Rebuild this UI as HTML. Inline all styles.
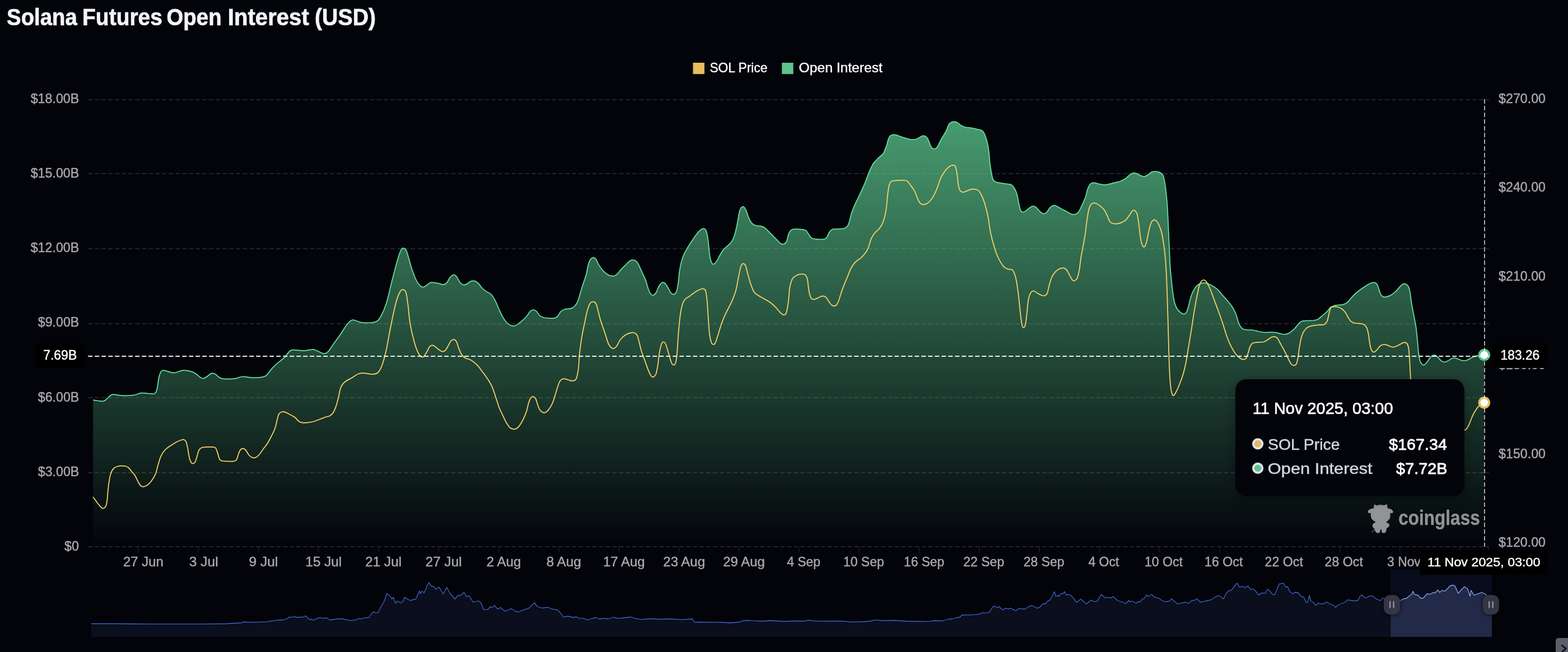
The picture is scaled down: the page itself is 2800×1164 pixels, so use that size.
<!DOCTYPE html>
<html lang="en"><head><meta charset="utf-8"><title>Solana Futures Open Interest (USD)</title>
<style>html,body{margin:0;padding:0;background:#03040a;}body{width:2800px;height:1164px;overflow:hidden;position:relative;}svg{display:block;position:absolute;left:0;top:0;}text{font-family:"Liberation Sans",sans-serif;white-space:pre;}</style>
</head><body>
<svg width="2800" height="1164" viewBox="0 0 2800 1164">
<defs>
<linearGradient id="ga" gradientUnits="userSpaceOnUse" x1="0" y1="215" x2="0" y2="976">
<stop offset="0" stop-color="#5ecd91" stop-opacity="0.75"/>
<stop offset="1" stop-color="#5ecd91" stop-opacity="0.0"/>
</linearGradient>
<filter id="sh" x="-20%" y="-20%" width="140%" height="140%"><feGaussianBlur stdDeviation="10"/></filter>
<filter id="hb1" x="-20%" y="-20%" width="140%" height="140%"><feGaussianBlur stdDeviation="0.7"/></filter>
<filter id="hb2" x="-40%" y="-40%" width="180%" height="180%"><feGaussianBlur stdDeviation="3"/></filter>
<clipPath id="selclip"><rect x="2483.25" y="1000" width="180.75" height="140"/></clipPath>
<clipPath id="unselclip"><rect x="0" y="1000" width="2483.25" height="140"/></clipPath>
</defs>
<rect width="2800" height="1164" fill="#03040a"/>
<text y="44.7" font-size="43" fill="#f3f4f8" font-weight="bold" stroke="#f3f4f8" stroke-width="0.7" stroke-linejoin="round"><tspan x="12.1" textLength="125.61" lengthAdjust="spacingAndGlyphs">Solana</tspan> <tspan x="147.02" textLength="142.97" lengthAdjust="spacingAndGlyphs">Futures</tspan> <tspan x="297.41" textLength="98.27" lengthAdjust="spacingAndGlyphs">Open</tspan> <tspan x="406.74" textLength="145.11" lengthAdjust="spacingAndGlyphs">Interest</tspan> <tspan x="561.88" textLength="109.33" lengthAdjust="spacingAndGlyphs">(USD)</tspan></text>
<rect x="1237.5" y="112" width="20.4" height="20.2" fill="#e6bc5c"/>
<text x="1267.38" y="128.9" textLength="102.97" lengthAdjust="spacingAndGlyphs" font-size="24" fill="#ffffff" stroke="#ffffff" stroke-width="0.4" stroke-linejoin="round">SOL Price</text>
<rect x="1396.2" y="112" width="20.4" height="20.2" fill="#5ec48c"/>
<text x="1426.59" y="128.9" textLength="149.23" lengthAdjust="spacingAndGlyphs" font-size="24" fill="#ffffff" stroke="#ffffff" stroke-width="0.4" stroke-linejoin="round">Open Interest</text>
<g stroke="#212328" stroke-width="2" stroke-dasharray="8 4" fill="none">
<path d="M157.3 178H2659"/>
<path d="M157.3 310H2659"/>
<path d="M157.3 444H2659"/>
<path d="M157.3 578H2659"/>
<path d="M157.3 710H2659"/>
<path d="M157.3 844H2659"/>
<path d="M157.3 976H2659"/>
</g>
<g stroke="#16181c" stroke-width="2" fill="none">
<path d="M247 976V986.5"/>
<path d="M354.3 976V986.5"/>
<path d="M461.5 976V986.5"/>
<path d="M568.8 976V986.5"/>
<path d="M676.1 976V986.5"/>
<path d="M783.4 976V986.5"/>
<path d="M890.6 976V986.5"/>
<path d="M997.9 976V986.5"/>
<path d="M1105.2 976V986.5"/>
<path d="M1212.4 976V986.5"/>
<path d="M1319.7 976V986.5"/>
<path d="M1427 976V986.5"/>
<path d="M1534.2 976V986.5"/>
<path d="M1641.5 976V986.5"/>
<path d="M1748.8 976V986.5"/>
<path d="M1856 976V986.5"/>
<path d="M1963.3 976V986.5"/>
<path d="M2070.6 976V986.5"/>
<path d="M2177.9 976V986.5"/>
<path d="M2285.1 976V986.5"/>
<path d="M2392.4 976V986.5"/>
<path d="M2499.7 976V986.5"/>
<path d="M2606.9 976V986.5"/>
<path d="M2658 976V986.5"/>
</g>
<text x="54.69" y="184.1" textLength="86.56" lengthAdjust="spacingAndGlyphs" font-size="24.5" fill="#a9a9ac" stroke="#a9a9ac" stroke-width="0.45" stroke-linejoin="round">$18.00B</text>
<text x="54.69" y="317.2" textLength="86.56" lengthAdjust="spacingAndGlyphs" font-size="24.5" fill="#a9a9ac" stroke="#a9a9ac" stroke-width="0.45" stroke-linejoin="round">$15.00B</text>
<text x="54.69" y="450.4" textLength="86.56" lengthAdjust="spacingAndGlyphs" font-size="24.5" fill="#a9a9ac" stroke="#a9a9ac" stroke-width="0.45" stroke-linejoin="round">$12.00B</text>
<text x="67.79" y="583.2" textLength="73.55" lengthAdjust="spacingAndGlyphs" font-size="24.5" fill="#a9a9ac" stroke="#a9a9ac" stroke-width="0.45" stroke-linejoin="round">$9.00B</text>
<text x="67.79" y="716.5" textLength="73.55" lengthAdjust="spacingAndGlyphs" font-size="24.5" fill="#a9a9ac" stroke="#a9a9ac" stroke-width="0.45" stroke-linejoin="round">$6.00B</text>
<text x="67.79" y="849.8" textLength="73.55" lengthAdjust="spacingAndGlyphs" font-size="24.5" fill="#a9a9ac" stroke="#a9a9ac" stroke-width="0.45" stroke-linejoin="round">$3.00B</text>
<text x="114.99" y="983" textLength="25.95" lengthAdjust="spacingAndGlyphs" font-size="24.5" fill="#a9a9ac" stroke="#a9a9ac" stroke-width="0.45" stroke-linejoin="round">$0</text>
<text x="2676.09" y="184" textLength="83.9" lengthAdjust="spacingAndGlyphs" font-size="24.5" fill="#a9a9ac" stroke="#a9a9ac" stroke-width="0.45" stroke-linejoin="round">$270.00</text>
<text x="2676.09" y="342.4" textLength="83.9" lengthAdjust="spacingAndGlyphs" font-size="24.5" fill="#a9a9ac" stroke="#a9a9ac" stroke-width="0.45" stroke-linejoin="round">$240.00</text>
<text x="2676.09" y="500.8" textLength="83.9" lengthAdjust="spacingAndGlyphs" font-size="24.5" fill="#a9a9ac" stroke="#a9a9ac" stroke-width="0.45" stroke-linejoin="round">$210.00</text>
<text x="2676.09" y="659.2" textLength="83.9" lengthAdjust="spacingAndGlyphs" font-size="24.5" fill="#a9a9ac" stroke="#a9a9ac" stroke-width="0.45" stroke-linejoin="round">$180.00</text>
<text x="2676.09" y="817.6" textLength="83.9" lengthAdjust="spacingAndGlyphs" font-size="24.5" fill="#a9a9ac" stroke="#a9a9ac" stroke-width="0.45" stroke-linejoin="round">$150.00</text>
<text x="2676.09" y="976" textLength="83.9" lengthAdjust="spacingAndGlyphs" font-size="24.5" fill="#a9a9ac" stroke="#a9a9ac" stroke-width="0.45" stroke-linejoin="round">$120.00</text>
<text x="219.99" y="1010.8" textLength="71.73" lengthAdjust="spacingAndGlyphs" font-size="24.5" fill="#a9a9ac" stroke="#a9a9ac" stroke-width="0.45" stroke-linejoin="round">27 Jun</text>
<text x="337.84" y="1010.8" textLength="51.89" lengthAdjust="spacingAndGlyphs" font-size="24.5" fill="#a9a9ac" stroke="#a9a9ac" stroke-width="0.45" stroke-linejoin="round">3 Jul</text>
<text x="444.62" y="1010.8" textLength="51.8" lengthAdjust="spacingAndGlyphs" font-size="24.5" fill="#a9a9ac" stroke="#a9a9ac" stroke-width="0.45" stroke-linejoin="round">9 Jul</text>
<text x="545.4" y="1010.8" textLength="64.78" lengthAdjust="spacingAndGlyphs" font-size="24.5" fill="#a9a9ac" stroke="#a9a9ac" stroke-width="0.45" stroke-linejoin="round">15 Jul</text>
<text x="652.26" y="1010.8" textLength="64.93" lengthAdjust="spacingAndGlyphs" font-size="24.5" fill="#a9a9ac" stroke="#a9a9ac" stroke-width="0.45" stroke-linejoin="round">21 Jul</text>
<text x="759.76" y="1010.8" textLength="64.93" lengthAdjust="spacingAndGlyphs" font-size="24.5" fill="#a9a9ac" stroke="#a9a9ac" stroke-width="0.45" stroke-linejoin="round">27 Jul</text>
<text x="868.8" y="1010.8" textLength="61.46" lengthAdjust="spacingAndGlyphs" font-size="24.5" fill="#a9a9ac" stroke="#a9a9ac" stroke-width="0.45" stroke-linejoin="round">2 Aug</text>
<text x="975.66" y="1010.8" textLength="62.12" lengthAdjust="spacingAndGlyphs" font-size="24.5" fill="#a9a9ac" stroke="#a9a9ac" stroke-width="0.45" stroke-linejoin="round">8 Aug</text>
<text x="1076.96" y="1010.8" textLength="74.58" lengthAdjust="spacingAndGlyphs" font-size="24.5" fill="#a9a9ac" stroke="#a9a9ac" stroke-width="0.45" stroke-linejoin="round">17 Aug</text>
<text x="1184.3" y="1010.8" textLength="74.75" lengthAdjust="spacingAndGlyphs" font-size="24.5" fill="#a9a9ac" stroke="#a9a9ac" stroke-width="0.45" stroke-linejoin="round">23 Aug</text>
<text x="1291.3" y="1010.8" textLength="74.49" lengthAdjust="spacingAndGlyphs" font-size="24.5" fill="#a9a9ac" stroke="#a9a9ac" stroke-width="0.45" stroke-linejoin="round">29 Aug</text>
<text x="1405.15" y="1010.8" textLength="59.86" lengthAdjust="spacingAndGlyphs" font-size="24.5" fill="#a9a9ac" stroke="#a9a9ac" stroke-width="0.45" stroke-linejoin="round">4 Sep</text>
<text x="1506.01" y="1010.8" textLength="72.67" lengthAdjust="spacingAndGlyphs" font-size="24.5" fill="#a9a9ac" stroke="#a9a9ac" stroke-width="0.45" stroke-linejoin="round">10 Sep</text>
<text x="1614.02" y="1010.8" textLength="72.16" lengthAdjust="spacingAndGlyphs" font-size="24.5" fill="#a9a9ac" stroke="#a9a9ac" stroke-width="0.45" stroke-linejoin="round">16 Sep</text>
<text x="1720.33" y="1010.8" textLength="72.86" lengthAdjust="spacingAndGlyphs" font-size="24.5" fill="#a9a9ac" stroke="#a9a9ac" stroke-width="0.45" stroke-linejoin="round">22 Sep</text>
<text x="1827.83" y="1010.8" textLength="72.6" lengthAdjust="spacingAndGlyphs" font-size="24.5" fill="#a9a9ac" stroke="#a9a9ac" stroke-width="0.45" stroke-linejoin="round">28 Sep</text>
<text x="1943.4" y="1010.8" textLength="55.1" lengthAdjust="spacingAndGlyphs" font-size="24.5" fill="#a9a9ac" stroke="#a9a9ac" stroke-width="0.45" stroke-linejoin="round">4 Oct</text>
<text x="2044" y="1010.8" textLength="67.91" lengthAdjust="spacingAndGlyphs" font-size="24.5" fill="#a9a9ac" stroke="#a9a9ac" stroke-width="0.45" stroke-linejoin="round">10 Oct</text>
<text x="2150.98" y="1010.8" textLength="68.43" lengthAdjust="spacingAndGlyphs" font-size="24.5" fill="#a9a9ac" stroke="#a9a9ac" stroke-width="0.45" stroke-linejoin="round">16 Oct</text>
<text x="2258.56" y="1010.8" textLength="68.34" lengthAdjust="spacingAndGlyphs" font-size="24.5" fill="#a9a9ac" stroke="#a9a9ac" stroke-width="0.45" stroke-linejoin="round">22 Oct</text>
<text x="2365.56" y="1010.8" textLength="68.34" lengthAdjust="spacingAndGlyphs" font-size="24.5" fill="#a9a9ac" stroke="#a9a9ac" stroke-width="0.45" stroke-linejoin="round">28 Oct</text>
<text x="2477.06" y="1010.8" textLength="59.77" lengthAdjust="spacingAndGlyphs" font-size="24.5" fill="#a9a9ac" stroke="#a9a9ac" stroke-width="0.45" stroke-linejoin="round">3 Nov</text>
<path d="M166.2 714.2C167.7 714.4 171.9 715.1 175 715.5C178.1 715.8 182.3 716.8 185 716.2C187.7 715.6 189.4 713.3 191.2 711.7C193.1 710.1 194.4 708 196.2 706.7C198.1 705.5 199 704.3 202.5 704.2C206 704.1 211.7 706 217.5 706.2C223.3 706.5 231.7 706.5 237.5 705.7C243.3 705 247.9 702.2 252.5 701.7C257.1 701.2 261.2 702.2 265 702.5C268.8 702.7 272.5 704 275 703C277.5 701.9 278.5 701.1 280 696.2C281.5 691.3 282.5 679.1 283.8 673.7C285 668.3 286 665.8 287.5 663.7C289 661.6 288.8 660.9 292.5 661.2C296.2 661.5 304.2 665.5 310 665.5C315.8 665.5 322.1 661.5 327.5 661.2C332.9 660.9 338.8 662.7 342.5 663.7C346.2 664.7 346.7 665.5 350 667.5C353.3 669.5 357.9 675.8 362.5 675.7C367.1 675.6 373.8 668 377.5 666.7C381.2 665.5 382.1 666.7 385 668.2C387.9 669.7 389.6 674.4 395 675.7C400.4 677 411.2 676.7 417.5 676.2C423.8 675.7 427.1 672.8 432.5 672.5C437.9 672.1 444.6 674 450 674.2C455.4 674.4 460.8 674.3 465 673.7C469.2 673.1 471.7 673.2 475 670.7C478.3 668.2 481.7 662.4 485 658.7C488.3 655 491.2 652 495 648.7C498.8 645.4 503.8 642.4 507.5 638.7C511.2 635 514.6 629 517.5 626.7C520.4 624.4 520.8 624.8 525 624.7C529.2 624.6 537.1 626.3 542.5 626.2C547.9 626.1 553.8 624 557.5 624C561.2 623.9 561.7 624.5 565 625.7C568.3 626.9 574.2 630.7 577.5 631.2C580.8 631.7 582.1 631.4 585 628.7C587.9 626 591.2 620.2 595 615C598.8 609.7 603.3 603.5 607.5 597.5C611.7 591.4 616.7 583 620 578.7C623.3 574.5 625.4 573.2 627.5 572C629.6 570.7 629.6 570.8 632.5 571.5C635.4 572.1 640 575 645 575.7C650 576.5 657.9 576.3 662.5 576C667.1 575.6 669.6 575.5 672.5 573.7C675.4 571.9 677.1 570.4 680 565C682.9 559.5 686.7 551.8 690 541.2C693.3 530.6 696.7 514.1 700 501.2C703.3 488.3 707.3 472.9 710 463.7C712.7 454.5 714.6 449.6 716.2 446.2C717.9 442.8 718.5 443.2 720 443.2C721.5 443.2 723.3 443.2 725 446.2C726.7 449.2 728.3 455.8 730 461.2C731.7 466.6 732.9 472.4 735 478.7C737.1 484.9 740 493.5 742.5 498.7C745 503.9 747.7 507.7 750 509.9C752.3 512.2 754.2 512.7 756.2 512.5C758.3 512.2 760.2 510.1 762.5 508.7C764.8 507.3 766.4 504.6 770 504.2C773.6 503.8 780.4 505.5 784 506.2C787.6 506.9 789.2 508.4 791.5 508.2C793.8 508 795.7 507.2 797.8 504.9C799.8 502.7 801.9 497.3 804 494.9C806.1 492.6 808.4 490.9 810.2 490.7C812.1 490.5 813.6 491.7 815.2 493.7C816.9 495.7 818.4 500 820.2 502.4C822.1 504.9 824.4 507.4 826.5 508.2C828.6 509 830.5 508.4 832.8 507.4C835 506.5 837.8 503.4 840.2 502.4C842.8 501.5 845.5 501.2 847.8 501.7C850 502.2 851.7 503.5 854 505.7C856.3 507.9 859 512.5 861.5 515C864 517.5 866.5 519 869 520.7C871.5 522.4 874 522.4 876.5 525C879 527.5 881.7 532 884 536.2C886.3 540.4 888.2 545.4 890.2 550C892.3 554.5 894.2 559.5 896.5 563.7C898.8 567.9 901.5 572.1 904 575C906.5 577.8 909 579.6 911.5 580.7C914 581.8 916.5 582.2 919 581.7C921.5 581.2 924 579.2 926.5 577.5C929 575.7 931.7 573.3 934 571.2C936.3 569.1 938.2 567.5 940.2 565C942.3 562.5 944.5 558.2 946.5 556.2C948.5 554.2 950.1 553.3 952 553.2C953.9 553.1 955.8 554 957.8 555.7C959.8 557.5 961.7 561.8 964 563.7C966.3 565.6 968.6 566.2 971.5 567C974.4 567.7 978.2 568.1 981.5 568.2C984.8 568.3 989 568.5 991.5 567.7C994 567 994.8 565.6 996.5 563.7C998.2 561.8 999.4 558.2 1001.5 556.2C1003.6 554.2 1005.9 552.9 1009 552C1012.1 551 1017.3 551.7 1020.2 550.7C1023.2 549.7 1024.6 548.2 1026.5 546.2C1028.4 544.2 1029.8 542.7 1031.5 538.7C1033.2 534.7 1034.8 527.9 1036.5 522.5C1038.2 517 1039.8 511.4 1041.5 506.2C1043.2 501 1045 496.6 1046.5 491.2C1048 485.8 1049 478.3 1050.2 473.7C1051.5 469.1 1052.5 466 1054 463.7C1055.5 461.4 1057.3 460.2 1059 459.9C1060.7 459.7 1062.3 460.4 1064 462.4C1065.7 464.5 1067.1 469.3 1069 472.4C1070.9 475.6 1073 478.5 1075.2 481.2C1077.5 483.9 1080.5 486.9 1082.8 488.7C1085 490.5 1086.7 491.3 1089 491.9C1091.3 492.6 1094.2 493.2 1096.5 492.7C1098.8 492.2 1100.7 490.6 1102.8 488.7C1104.8 486.8 1106.7 483.7 1109 481.2C1111.3 478.7 1114 476.2 1116.5 473.7C1119 471.2 1121.7 467.8 1124 466.2C1126.3 464.6 1128.2 464.1 1130.2 464.2C1132.3 464.3 1134.6 464.9 1136.5 466.7C1138.4 468.5 1139.8 471.7 1141.5 474.9C1143.2 478.2 1144.6 482 1146.5 486.2C1148.4 490.4 1150.9 494.9 1152.8 499.9C1154.6 504.9 1156.3 512.2 1157.8 516.2C1159.2 520.2 1160 522.4 1161.5 524.2C1163 526 1164.8 527.2 1166.5 527C1168.2 526.7 1169.8 525.1 1171.5 522.5C1173.2 519.8 1174.8 514.1 1176.5 511.2C1178.2 508.3 1179.8 506 1181.5 504.9C1183.2 503.9 1184.8 503.9 1186.5 504.9C1188.2 506 1189.6 508.3 1191.5 511.2C1193.4 514.1 1195.9 520 1197.8 522.5C1199.6 524.9 1201.1 525.9 1202.8 525.7C1204.4 525.5 1206.4 524.5 1207.8 521.2C1209.1 518 1210 512.5 1211 506.2C1212 499.9 1212.4 490.8 1213.5 483.7C1214.6 476.6 1216 469.5 1217.8 463.7C1219.5 457.9 1220.5 455 1224 448.7C1227.5 442.4 1234.4 431.7 1238.5 425.7C1242.6 419.7 1245.6 415.6 1248.5 412.7C1251.4 409.8 1253.9 408.3 1256 408.2C1258.1 408.1 1259.7 409 1261 411.9C1262.3 414.9 1262.9 417.9 1264 425.7C1265.1 433.5 1266.5 451.3 1267.8 458.7C1269 466.1 1270.5 467.8 1271.5 469.9C1272.5 472.1 1272.8 472.1 1274 471.7C1275.2 471.3 1277.1 470 1279 467.4C1280.9 464.9 1283.2 459.7 1285.2 456.2C1287.3 452.7 1288 450.2 1291.5 446.2C1295 442.2 1302.5 436.6 1306 431.9C1309.5 427.3 1310.4 424.2 1312.2 418.2C1314.1 412.2 1315.8 402.8 1317.2 395.7C1318.7 388.6 1319.3 380.2 1321 375.7C1322.7 371.2 1325.4 368.9 1327.2 368.9C1329.1 368.9 1330.6 372.3 1332.2 375.7C1333.9 379.1 1335.4 385.5 1337.2 389.4C1339.1 393.4 1341.2 397.2 1343.5 399.4C1345.8 401.7 1348.5 402.5 1351 403.2C1353.5 403.9 1356 403.1 1358.5 403.7C1361 404.3 1363.1 404.7 1366 406.9C1368.9 409.2 1372.7 413.6 1376 416.9C1379.3 420.3 1383.1 424 1386 426.9C1388.9 429.9 1391.2 433 1393.5 434.4C1395.8 435.9 1397.9 436.3 1399.8 435.7C1401.6 435.1 1403.3 433.8 1404.8 430.7C1406.2 427.6 1407 420.4 1408.5 416.9C1410 413.5 1411.4 411.5 1413.5 410.2C1415.6 408.9 1417.7 409 1421 408.9C1424.3 408.9 1430.4 409.4 1433.5 409.9C1436.6 410.4 1437.9 410.4 1439.8 411.9C1441.6 413.5 1443.1 417.2 1444.8 419.4C1446.4 421.7 1447.5 423.9 1449.8 425.2C1452 426.4 1455 426.6 1458.5 426.9C1462 427.3 1468.1 427.6 1471 427.2C1473.9 426.8 1474.3 426.6 1476 424.4C1477.7 422.3 1479.3 416.9 1481 414.4C1482.7 411.9 1484.5 410.4 1486 409.4C1487.5 408.5 1487.7 409.2 1490 409C1492.3 408.9 1497.3 408.9 1500.1 408.7C1502.9 408.5 1504.8 408.4 1506.8 407.9C1508.8 407.3 1510.4 406.6 1511.8 405.3C1513.2 404.1 1514.2 402.5 1515.2 400.3C1516.2 398.1 1516.9 395 1517.7 391.9C1518.6 388.8 1519 385.7 1520.2 381.8C1521.5 377.9 1523.3 373 1525.3 368.4C1527.3 363.7 1529.8 358.8 1532 354.1C1534.3 349.3 1536.5 344.7 1538.7 339.8C1541 334.9 1543.6 329.2 1545.5 324.7C1547.3 320.2 1548.3 316.5 1549.7 312.9C1551.1 309.3 1552.3 306.2 1553.9 302.8C1555.4 299.5 1557.9 294.6 1558.9 292.7C1559.9 290.8 1558.9 293 1560 291.4C1561.4 289.7 1564.7 285.8 1567.5 283C1570.3 280.2 1574.7 277.1 1576.8 274.6C1578.9 272.1 1579.1 270.1 1580.1 268C1581 266 1581.7 264.4 1582.4 262.4C1583.1 260.4 1583.7 258.1 1584.3 255.9C1584.9 253.7 1585.4 251.5 1586.1 249.3C1586.9 247.2 1587.9 244.7 1588.9 243.3C1590 241.9 1591.4 241.4 1592.7 240.9C1593.9 240.5 1595 240.3 1596.4 240.3C1597.8 240.3 1599.4 240.7 1601.1 241.2C1602.8 241.7 1604.2 242.4 1606.7 243.3C1609.2 244.1 1612.9 245.3 1616 246.3C1619.1 247.2 1622.9 248.6 1625.4 249.1C1627.8 249.6 1629.1 249.5 1631 249.3C1632.8 249.2 1634.7 248.9 1636.6 248.2C1638.4 247.5 1640.5 246.1 1642.2 245.2C1643.9 244.2 1645.6 243.3 1646.8 242.8C1648.1 242.4 1648.6 242.2 1649.6 242.3C1650.7 242.5 1652.3 243.2 1653.4 243.9C1654.5 244.7 1655.2 245.5 1656.2 247C1657.1 248.5 1658 250.8 1659 253.1C1659.9 255.3 1660.8 258.7 1661.8 260.6C1662.7 262.4 1663.6 263.4 1664.6 264.3C1665.5 265.1 1666.4 265.5 1667.4 265.7C1668.3 265.8 1669.2 265.6 1670.2 265.2C1671.1 264.8 1671.9 264.8 1673 263.4C1674.1 262 1675.3 259.5 1676.7 256.8C1678.1 254.2 1679.8 250.3 1681.4 247.5C1682.9 244.7 1684.6 242.4 1686 240C1687.5 237.7 1688.7 235.8 1689.8 233.5C1690.9 231.1 1691.7 228.1 1692.6 226C1693.5 223.9 1694.3 222.2 1695.4 220.9C1696.5 219.5 1697.9 218.7 1699.1 218.1C1700.4 217.4 1701.6 217.2 1702.9 217.1C1704.1 217.1 1705.3 217.2 1706.6 217.6C1707.8 218 1708.9 218.5 1710.3 219.5C1711.7 220.4 1713.3 222.1 1715 223.2C1716.7 224.3 1718.7 225.3 1720.6 226C1722.5 226.7 1724.2 227.3 1726.2 227.6C1728.2 227.9 1730.6 227.8 1732.7 228.1C1734.9 228.3 1736.9 228.8 1739.3 229.3C1741.6 229.8 1744.7 230.7 1746.7 231.2C1748.8 231.6 1750 231.5 1751.4 232.1C1752.8 232.6 1754.1 233.2 1755.1 234.4C1756.2 235.6 1757 237.1 1758 239.1C1758.9 241.1 1759.8 243.6 1760.8 246.6C1761.7 249.5 1762.8 253.2 1763.5 256.8C1764.3 260.4 1764.9 264.1 1765.4 268C1766 271.9 1766.4 276.1 1766.8 280.2C1767.2 284.2 1766.8 286 1767.8 292.3C1768.7 298.6 1770.9 312.8 1772.5 318.2C1774.1 323.6 1775 323 1777.5 324.4C1780 325.9 1783.8 326.2 1787.5 326.9C1791.2 327.7 1796.9 328.2 1800 328.7C1803.1 329.2 1804.4 329 1806.2 330.2C1808.1 331.4 1809.7 333.1 1811.2 335.7C1812.8 338.3 1814.5 341.5 1815.8 345.7C1817 349.9 1817.7 355.9 1818.8 360.7C1819.8 365.5 1820.8 371.4 1822 374.4C1823.2 377.4 1824.7 378.3 1826.2 378.7C1827.8 379.1 1829.2 378.3 1831.2 376.9C1833.3 375.6 1836.5 372.2 1838.8 370.7C1841 369.2 1843.1 368.3 1845 368.2C1846.9 368.1 1848.1 368.5 1850 369.9C1851.9 371.4 1854.2 375 1856.2 376.9C1858.3 378.9 1860.4 381 1862.5 381.4C1864.6 381.9 1866.7 381.2 1868.8 379.4C1870.8 377.7 1872.9 372.8 1875 370.7C1877.1 368.6 1879.2 367.4 1881.2 366.9C1883.3 366.5 1885.2 367.2 1887.5 368.2C1889.8 369.2 1892.1 371.1 1895 372.7C1897.9 374.3 1901.9 376.1 1905 377.7C1908.1 379.3 1911.2 381.6 1913.8 382.4C1916.2 383.3 1917.9 383.4 1920 382.7C1922.1 382 1924.2 381 1926.2 378.2C1928.3 375.4 1930.4 370.3 1932.5 365.7C1934.6 361.1 1937.1 355.5 1938.8 350.7C1940.4 345.9 1941 340.7 1942.5 336.9C1944 333.2 1945.6 330 1947.5 328.2C1949.4 326.4 1951.5 326.2 1953.8 326.2C1956 326.2 1958.3 327.6 1961.2 328.2C1964.2 328.8 1968.1 329.8 1971.2 329.9C1974.4 330.1 1976.9 329.6 1980 328.9C1983.1 328.3 1986.7 327.1 1990 326.2C1993.3 325.3 1996.7 324.9 2000 323.7C2003.3 322.4 2007.1 320.7 2010 318.7C2012.9 316.7 2015.2 313.6 2017.5 311.9C2019.8 310.3 2021.7 309.3 2023.8 308.9C2025.8 308.6 2027.7 309.1 2030 309.9C2032.3 310.8 2035.2 313.1 2037.5 313.9C2039.8 314.8 2041.7 315.5 2043.8 315.2C2045.8 314.9 2047.9 313.2 2050 311.9C2052.1 310.7 2054.2 308.4 2056.2 307.4C2058.3 306.5 2060.2 306.2 2062.5 306.2C2064.8 306.2 2067.7 306.5 2070 307.4C2072.3 308.4 2074.7 309.3 2076.2 311.9C2077.8 314.6 2078.5 317.6 2079.5 323.2C2080.5 328.8 2081.6 336.9 2082.5 345.7C2083.4 354.4 2083.9 355.2 2085 375.7C2086.1 396.2 2088.2 449 2089.2 468.7C2090.3 488.4 2090.5 485.4 2091.2 493.7C2092 502 2092.8 511.2 2093.8 518.7C2094.7 526.2 2095.8 533.5 2097 538.7C2098.2 543.9 2099.5 546.8 2101.2 550C2103 553.1 2105.4 555.7 2107.5 557.5C2109.6 559.2 2111.9 560.5 2113.8 560.5C2115.6 560.5 2117.3 559.8 2118.8 557.5C2120.2 555.1 2121.2 550.6 2122.5 546.2C2123.8 541.8 2124.8 535.8 2126.2 531.2C2127.7 526.6 2129.4 522.2 2131.2 518.7C2133.1 515.2 2135.2 512.1 2137.5 509.9C2139.8 507.8 2142.5 506.5 2145 505.7C2147.5 504.9 2149.4 504.6 2152.5 505.2C2155.6 505.8 2160 507.6 2163.5 509.4C2167 511.3 2170.2 513.2 2173.5 516.2C2176.8 519.2 2180.2 523.7 2183.5 527.5C2186.8 531.2 2190.6 535.2 2193.5 538.7C2196.4 542.2 2198.7 545 2201 548.7C2203.3 552.5 2205.6 557 2207.2 561.2C2208.9 565.4 2209.8 570.2 2211 573.7C2212.2 577.2 2213.3 580.2 2214.8 582.5C2216.2 584.7 2217.5 586.4 2219.8 587.5C2222 588.5 2225.4 588.6 2228.5 589C2231.6 589.3 2235.2 589 2238.5 589.5C2241.8 590 2245.2 591.3 2248.5 592C2251.8 592.6 2255.2 593.2 2258.5 593.5C2261.8 593.7 2265.2 593.2 2268.5 593.2C2271.8 593.2 2275.2 593.2 2278.5 593.7C2281.8 594.2 2285.6 595.7 2288.5 596.2C2291.4 596.7 2293.5 597.1 2296 596.7C2298.5 596.3 2300.8 595.5 2303.5 593.7C2306.2 592 2309.5 589 2312.2 586.2C2315 583.4 2317.5 579.1 2319.8 577C2322 574.8 2323.3 574 2326 573.2C2328.7 572.5 2332.7 572.7 2336 572.5C2339.3 572.2 2343.1 572.4 2346 572C2348.9 571.5 2351 571.3 2353.5 570C2356 568.6 2358.3 566 2361 563.7C2363.7 561.4 2367.2 558.7 2369.8 556.2C2372.2 553.7 2373.9 550.5 2376 548.7C2378.1 547 2380 546.4 2382.2 545.7C2384.5 545 2387 545 2389.8 544.7C2392.5 544.4 2395.8 544.5 2398.5 543.7C2401.2 542.9 2403.5 542 2406 540C2408.5 537.9 2410.8 534.1 2413.5 531.2C2416.2 528.3 2419.3 525 2422.2 522.5C2425.2 519.9 2428.1 517.8 2431 515.7C2433.9 513.6 2437 511.6 2439.8 509.9C2442.5 508.3 2445 506.6 2447.2 505.7C2449.5 504.8 2451.6 504.3 2453.5 504.4C2455.4 504.6 2457 504.7 2458.5 506.7C2460 508.7 2461 513 2462.2 516.2C2463.5 519.5 2464.5 523.9 2466 526.2C2467.5 528.5 2468.9 529.7 2471 530.2C2473.1 530.7 2476 530 2478.5 529.2C2481 528.4 2483.5 527.1 2486 525.5C2488.5 523.8 2491.2 521.5 2493.5 519.2C2495.8 517 2497.9 513.9 2499.8 511.9C2501.6 510 2503.1 508.3 2504.8 507.4C2506.4 506.6 2508.1 506.3 2509.8 506.9C2511.4 507.6 2513.4 508.8 2514.8 511.2C2516.1 513.6 2516.7 515.8 2517.8 521.2C2518.8 526.6 2519.8 536.6 2521 543.7C2522.2 550.8 2523.5 557 2524.8 563.7C2526 570.4 2527.5 576.6 2528.5 583.7C2529.5 590.8 2530.2 598.7 2531 606.2C2531.8 613.7 2532.2 622.5 2533 628.7C2533.8 635 2534.4 640 2535.5 643.7C2536.6 647.4 2538.4 649.5 2539.8 650.7C2541.1 652 2542 652 2543.5 651.2C2545 650.5 2546.8 648.3 2548.5 646.2C2550.2 644.1 2551.8 640.7 2553.5 638.7C2555.2 636.7 2556.8 635.2 2558.5 634.5C2560.2 633.7 2561.8 633.7 2563.5 634.5C2565.2 635.2 2566.6 637 2568.5 638.7C2570.4 640.5 2572.7 643.7 2574.8 645C2576.8 646.2 2578.9 646.5 2581 646.2C2583.1 645.9 2585.2 644.3 2587.2 643.2C2589.3 642.1 2591.4 640.1 2593.5 639.5C2595.6 638.8 2597.7 639 2599.8 639.5C2601.8 639.9 2603.7 641.2 2606 642C2608.3 642.7 2611 644.1 2613.5 644.2C2616 644.3 2618.5 643.5 2621 642.5C2623.5 641.5 2626 639.3 2628.5 638.2C2631 637.1 2633.5 636.3 2636 635.7C2638.5 635.1 2641.2 634.7 2643.5 634.5C2645.8 634.2 2648.7 634.2 2649.8 634.2L2649.8 976L166.2 976Z" fill="url(#ga)"/>
<path d="M166.2 714.2C167.7 714.4 171.9 715.1 175 715.5C178.1 715.8 182.3 716.8 185 716.2C187.7 715.6 189.4 713.3 191.2 711.7C193.1 710.1 194.4 708 196.2 706.7C198.1 705.5 199 704.3 202.5 704.2C206 704.1 211.7 706 217.5 706.2C223.3 706.5 231.7 706.5 237.5 705.7C243.3 705 247.9 702.2 252.5 701.7C257.1 701.2 261.2 702.2 265 702.5C268.8 702.7 272.5 704 275 703C277.5 701.9 278.5 701.1 280 696.2C281.5 691.3 282.5 679.1 283.8 673.7C285 668.3 286 665.8 287.5 663.7C289 661.6 288.8 660.9 292.5 661.2C296.2 661.5 304.2 665.5 310 665.5C315.8 665.5 322.1 661.5 327.5 661.2C332.9 660.9 338.8 662.7 342.5 663.7C346.2 664.7 346.7 665.5 350 667.5C353.3 669.5 357.9 675.8 362.5 675.7C367.1 675.6 373.8 668 377.5 666.7C381.2 665.5 382.1 666.7 385 668.2C387.9 669.7 389.6 674.4 395 675.7C400.4 677 411.2 676.7 417.5 676.2C423.8 675.7 427.1 672.8 432.5 672.5C437.9 672.1 444.6 674 450 674.2C455.4 674.4 460.8 674.3 465 673.7C469.2 673.1 471.7 673.2 475 670.7C478.3 668.2 481.7 662.4 485 658.7C488.3 655 491.2 652 495 648.7C498.8 645.4 503.8 642.4 507.5 638.7C511.2 635 514.6 629 517.5 626.7C520.4 624.4 520.8 624.8 525 624.7C529.2 624.6 537.1 626.3 542.5 626.2C547.9 626.1 553.8 624 557.5 624C561.2 623.9 561.7 624.5 565 625.7C568.3 626.9 574.2 630.7 577.5 631.2C580.8 631.7 582.1 631.4 585 628.7C587.9 626 591.2 620.2 595 615C598.8 609.7 603.3 603.5 607.5 597.5C611.7 591.4 616.7 583 620 578.7C623.3 574.5 625.4 573.2 627.5 572C629.6 570.7 629.6 570.8 632.5 571.5C635.4 572.1 640 575 645 575.7C650 576.5 657.9 576.3 662.5 576C667.1 575.6 669.6 575.5 672.5 573.7C675.4 571.9 677.1 570.4 680 565C682.9 559.5 686.7 551.8 690 541.2C693.3 530.6 696.7 514.1 700 501.2C703.3 488.3 707.3 472.9 710 463.7C712.7 454.5 714.6 449.6 716.2 446.2C717.9 442.8 718.5 443.2 720 443.2C721.5 443.2 723.3 443.2 725 446.2C726.7 449.2 728.3 455.8 730 461.2C731.7 466.6 732.9 472.4 735 478.7C737.1 484.9 740 493.5 742.5 498.7C745 503.9 747.7 507.7 750 509.9C752.3 512.2 754.2 512.7 756.2 512.5C758.3 512.2 760.2 510.1 762.5 508.7C764.8 507.3 766.4 504.6 770 504.2C773.6 503.8 780.4 505.5 784 506.2C787.6 506.9 789.2 508.4 791.5 508.2C793.8 508 795.7 507.2 797.8 504.9C799.8 502.7 801.9 497.3 804 494.9C806.1 492.6 808.4 490.9 810.2 490.7C812.1 490.5 813.6 491.7 815.2 493.7C816.9 495.7 818.4 500 820.2 502.4C822.1 504.9 824.4 507.4 826.5 508.2C828.6 509 830.5 508.4 832.8 507.4C835 506.5 837.8 503.4 840.2 502.4C842.8 501.5 845.5 501.2 847.8 501.7C850 502.2 851.7 503.5 854 505.7C856.3 507.9 859 512.5 861.5 515C864 517.5 866.5 519 869 520.7C871.5 522.4 874 522.4 876.5 525C879 527.5 881.7 532 884 536.2C886.3 540.4 888.2 545.4 890.2 550C892.3 554.5 894.2 559.5 896.5 563.7C898.8 567.9 901.5 572.1 904 575C906.5 577.8 909 579.6 911.5 580.7C914 581.8 916.5 582.2 919 581.7C921.5 581.2 924 579.2 926.5 577.5C929 575.7 931.7 573.3 934 571.2C936.3 569.1 938.2 567.5 940.2 565C942.3 562.5 944.5 558.2 946.5 556.2C948.5 554.2 950.1 553.3 952 553.2C953.9 553.1 955.8 554 957.8 555.7C959.8 557.5 961.7 561.8 964 563.7C966.3 565.6 968.6 566.2 971.5 567C974.4 567.7 978.2 568.1 981.5 568.2C984.8 568.3 989 568.5 991.5 567.7C994 567 994.8 565.6 996.5 563.7C998.2 561.8 999.4 558.2 1001.5 556.2C1003.6 554.2 1005.9 552.9 1009 552C1012.1 551 1017.3 551.7 1020.2 550.7C1023.2 549.7 1024.6 548.2 1026.5 546.2C1028.4 544.2 1029.8 542.7 1031.5 538.7C1033.2 534.7 1034.8 527.9 1036.5 522.5C1038.2 517 1039.8 511.4 1041.5 506.2C1043.2 501 1045 496.6 1046.5 491.2C1048 485.8 1049 478.3 1050.2 473.7C1051.5 469.1 1052.5 466 1054 463.7C1055.5 461.4 1057.3 460.2 1059 459.9C1060.7 459.7 1062.3 460.4 1064 462.4C1065.7 464.5 1067.1 469.3 1069 472.4C1070.9 475.6 1073 478.5 1075.2 481.2C1077.5 483.9 1080.5 486.9 1082.8 488.7C1085 490.5 1086.7 491.3 1089 491.9C1091.3 492.6 1094.2 493.2 1096.5 492.7C1098.8 492.2 1100.7 490.6 1102.8 488.7C1104.8 486.8 1106.7 483.7 1109 481.2C1111.3 478.7 1114 476.2 1116.5 473.7C1119 471.2 1121.7 467.8 1124 466.2C1126.3 464.6 1128.2 464.1 1130.2 464.2C1132.3 464.3 1134.6 464.9 1136.5 466.7C1138.4 468.5 1139.8 471.7 1141.5 474.9C1143.2 478.2 1144.6 482 1146.5 486.2C1148.4 490.4 1150.9 494.9 1152.8 499.9C1154.6 504.9 1156.3 512.2 1157.8 516.2C1159.2 520.2 1160 522.4 1161.5 524.2C1163 526 1164.8 527.2 1166.5 527C1168.2 526.7 1169.8 525.1 1171.5 522.5C1173.2 519.8 1174.8 514.1 1176.5 511.2C1178.2 508.3 1179.8 506 1181.5 504.9C1183.2 503.9 1184.8 503.9 1186.5 504.9C1188.2 506 1189.6 508.3 1191.5 511.2C1193.4 514.1 1195.9 520 1197.8 522.5C1199.6 524.9 1201.1 525.9 1202.8 525.7C1204.4 525.5 1206.4 524.5 1207.8 521.2C1209.1 518 1210 512.5 1211 506.2C1212 499.9 1212.4 490.8 1213.5 483.7C1214.6 476.6 1216 469.5 1217.8 463.7C1219.5 457.9 1220.5 455 1224 448.7C1227.5 442.4 1234.4 431.7 1238.5 425.7C1242.6 419.7 1245.6 415.6 1248.5 412.7C1251.4 409.8 1253.9 408.3 1256 408.2C1258.1 408.1 1259.7 409 1261 411.9C1262.3 414.9 1262.9 417.9 1264 425.7C1265.1 433.5 1266.5 451.3 1267.8 458.7C1269 466.1 1270.5 467.8 1271.5 469.9C1272.5 472.1 1272.8 472.1 1274 471.7C1275.2 471.3 1277.1 470 1279 467.4C1280.9 464.9 1283.2 459.7 1285.2 456.2C1287.3 452.7 1288 450.2 1291.5 446.2C1295 442.2 1302.5 436.6 1306 431.9C1309.5 427.3 1310.4 424.2 1312.2 418.2C1314.1 412.2 1315.8 402.8 1317.2 395.7C1318.7 388.6 1319.3 380.2 1321 375.7C1322.7 371.2 1325.4 368.9 1327.2 368.9C1329.1 368.9 1330.6 372.3 1332.2 375.7C1333.9 379.1 1335.4 385.5 1337.2 389.4C1339.1 393.4 1341.2 397.2 1343.5 399.4C1345.8 401.7 1348.5 402.5 1351 403.2C1353.5 403.9 1356 403.1 1358.5 403.7C1361 404.3 1363.1 404.7 1366 406.9C1368.9 409.2 1372.7 413.6 1376 416.9C1379.3 420.3 1383.1 424 1386 426.9C1388.9 429.9 1391.2 433 1393.5 434.4C1395.8 435.9 1397.9 436.3 1399.8 435.7C1401.6 435.1 1403.3 433.8 1404.8 430.7C1406.2 427.6 1407 420.4 1408.5 416.9C1410 413.5 1411.4 411.5 1413.5 410.2C1415.6 408.9 1417.7 409 1421 408.9C1424.3 408.9 1430.4 409.4 1433.5 409.9C1436.6 410.4 1437.9 410.4 1439.8 411.9C1441.6 413.5 1443.1 417.2 1444.8 419.4C1446.4 421.7 1447.5 423.9 1449.8 425.2C1452 426.4 1455 426.6 1458.5 426.9C1462 427.3 1468.1 427.6 1471 427.2C1473.9 426.8 1474.3 426.6 1476 424.4C1477.7 422.3 1479.3 416.9 1481 414.4C1482.7 411.9 1484.5 410.4 1486 409.4C1487.5 408.5 1487.7 409.2 1490 409C1492.3 408.9 1497.3 408.9 1500.1 408.7C1502.9 408.5 1504.8 408.4 1506.8 407.9C1508.8 407.3 1510.4 406.6 1511.8 405.3C1513.2 404.1 1514.2 402.5 1515.2 400.3C1516.2 398.1 1516.9 395 1517.7 391.9C1518.6 388.8 1519 385.7 1520.2 381.8C1521.5 377.9 1523.3 373 1525.3 368.4C1527.3 363.7 1529.8 358.8 1532 354.1C1534.3 349.3 1536.5 344.7 1538.7 339.8C1541 334.9 1543.6 329.2 1545.5 324.7C1547.3 320.2 1548.3 316.5 1549.7 312.9C1551.1 309.3 1552.3 306.2 1553.9 302.8C1555.4 299.5 1557.9 294.6 1558.9 292.7C1559.9 290.8 1558.9 293 1560 291.4C1561.4 289.7 1564.7 285.8 1567.5 283C1570.3 280.2 1574.7 277.1 1576.8 274.6C1578.9 272.1 1579.1 270.1 1580.1 268C1581 266 1581.7 264.4 1582.4 262.4C1583.1 260.4 1583.7 258.1 1584.3 255.9C1584.9 253.7 1585.4 251.5 1586.1 249.3C1586.9 247.2 1587.9 244.7 1588.9 243.3C1590 241.9 1591.4 241.4 1592.7 240.9C1593.9 240.5 1595 240.3 1596.4 240.3C1597.8 240.3 1599.4 240.7 1601.1 241.2C1602.8 241.7 1604.2 242.4 1606.7 243.3C1609.2 244.1 1612.9 245.3 1616 246.3C1619.1 247.2 1622.9 248.6 1625.4 249.1C1627.8 249.6 1629.1 249.5 1631 249.3C1632.8 249.2 1634.7 248.9 1636.6 248.2C1638.4 247.5 1640.5 246.1 1642.2 245.2C1643.9 244.2 1645.6 243.3 1646.8 242.8C1648.1 242.4 1648.6 242.2 1649.6 242.3C1650.7 242.5 1652.3 243.2 1653.4 243.9C1654.5 244.7 1655.2 245.5 1656.2 247C1657.1 248.5 1658 250.8 1659 253.1C1659.9 255.3 1660.8 258.7 1661.8 260.6C1662.7 262.4 1663.6 263.4 1664.6 264.3C1665.5 265.1 1666.4 265.5 1667.4 265.7C1668.3 265.8 1669.2 265.6 1670.2 265.2C1671.1 264.8 1671.9 264.8 1673 263.4C1674.1 262 1675.3 259.5 1676.7 256.8C1678.1 254.2 1679.8 250.3 1681.4 247.5C1682.9 244.7 1684.6 242.4 1686 240C1687.5 237.7 1688.7 235.8 1689.8 233.5C1690.9 231.1 1691.7 228.1 1692.6 226C1693.5 223.9 1694.3 222.2 1695.4 220.9C1696.5 219.5 1697.9 218.7 1699.1 218.1C1700.4 217.4 1701.6 217.2 1702.9 217.1C1704.1 217.1 1705.3 217.2 1706.6 217.6C1707.8 218 1708.9 218.5 1710.3 219.5C1711.7 220.4 1713.3 222.1 1715 223.2C1716.7 224.3 1718.7 225.3 1720.6 226C1722.5 226.7 1724.2 227.3 1726.2 227.6C1728.2 227.9 1730.6 227.8 1732.7 228.1C1734.9 228.3 1736.9 228.8 1739.3 229.3C1741.6 229.8 1744.7 230.7 1746.7 231.2C1748.8 231.6 1750 231.5 1751.4 232.1C1752.8 232.6 1754.1 233.2 1755.1 234.4C1756.2 235.6 1757 237.1 1758 239.1C1758.9 241.1 1759.8 243.6 1760.8 246.6C1761.7 249.5 1762.8 253.2 1763.5 256.8C1764.3 260.4 1764.9 264.1 1765.4 268C1766 271.9 1766.4 276.1 1766.8 280.2C1767.2 284.2 1766.8 286 1767.8 292.3C1768.7 298.6 1770.9 312.8 1772.5 318.2C1774.1 323.6 1775 323 1777.5 324.4C1780 325.9 1783.8 326.2 1787.5 326.9C1791.2 327.7 1796.9 328.2 1800 328.7C1803.1 329.2 1804.4 329 1806.2 330.2C1808.1 331.4 1809.7 333.1 1811.2 335.7C1812.8 338.3 1814.5 341.5 1815.8 345.7C1817 349.9 1817.7 355.9 1818.8 360.7C1819.8 365.5 1820.8 371.4 1822 374.4C1823.2 377.4 1824.7 378.3 1826.2 378.7C1827.8 379.1 1829.2 378.3 1831.2 376.9C1833.3 375.6 1836.5 372.2 1838.8 370.7C1841 369.2 1843.1 368.3 1845 368.2C1846.9 368.1 1848.1 368.5 1850 369.9C1851.9 371.4 1854.2 375 1856.2 376.9C1858.3 378.9 1860.4 381 1862.5 381.4C1864.6 381.9 1866.7 381.2 1868.8 379.4C1870.8 377.7 1872.9 372.8 1875 370.7C1877.1 368.6 1879.2 367.4 1881.2 366.9C1883.3 366.5 1885.2 367.2 1887.5 368.2C1889.8 369.2 1892.1 371.1 1895 372.7C1897.9 374.3 1901.9 376.1 1905 377.7C1908.1 379.3 1911.2 381.6 1913.8 382.4C1916.2 383.3 1917.9 383.4 1920 382.7C1922.1 382 1924.2 381 1926.2 378.2C1928.3 375.4 1930.4 370.3 1932.5 365.7C1934.6 361.1 1937.1 355.5 1938.8 350.7C1940.4 345.9 1941 340.7 1942.5 336.9C1944 333.2 1945.6 330 1947.5 328.2C1949.4 326.4 1951.5 326.2 1953.8 326.2C1956 326.2 1958.3 327.6 1961.2 328.2C1964.2 328.8 1968.1 329.8 1971.2 329.9C1974.4 330.1 1976.9 329.6 1980 328.9C1983.1 328.3 1986.7 327.1 1990 326.2C1993.3 325.3 1996.7 324.9 2000 323.7C2003.3 322.4 2007.1 320.7 2010 318.7C2012.9 316.7 2015.2 313.6 2017.5 311.9C2019.8 310.3 2021.7 309.3 2023.8 308.9C2025.8 308.6 2027.7 309.1 2030 309.9C2032.3 310.8 2035.2 313.1 2037.5 313.9C2039.8 314.8 2041.7 315.5 2043.8 315.2C2045.8 314.9 2047.9 313.2 2050 311.9C2052.1 310.7 2054.2 308.4 2056.2 307.4C2058.3 306.5 2060.2 306.2 2062.5 306.2C2064.8 306.2 2067.7 306.5 2070 307.4C2072.3 308.4 2074.7 309.3 2076.2 311.9C2077.8 314.6 2078.5 317.6 2079.5 323.2C2080.5 328.8 2081.6 336.9 2082.5 345.7C2083.4 354.4 2083.9 355.2 2085 375.7C2086.1 396.2 2088.2 449 2089.2 468.7C2090.3 488.4 2090.5 485.4 2091.2 493.7C2092 502 2092.8 511.2 2093.8 518.7C2094.7 526.2 2095.8 533.5 2097 538.7C2098.2 543.9 2099.5 546.8 2101.2 550C2103 553.1 2105.4 555.7 2107.5 557.5C2109.6 559.2 2111.9 560.5 2113.8 560.5C2115.6 560.5 2117.3 559.8 2118.8 557.5C2120.2 555.1 2121.2 550.6 2122.5 546.2C2123.8 541.8 2124.8 535.8 2126.2 531.2C2127.7 526.6 2129.4 522.2 2131.2 518.7C2133.1 515.2 2135.2 512.1 2137.5 509.9C2139.8 507.8 2142.5 506.5 2145 505.7C2147.5 504.9 2149.4 504.6 2152.5 505.2C2155.6 505.8 2160 507.6 2163.5 509.4C2167 511.3 2170.2 513.2 2173.5 516.2C2176.8 519.2 2180.2 523.7 2183.5 527.5C2186.8 531.2 2190.6 535.2 2193.5 538.7C2196.4 542.2 2198.7 545 2201 548.7C2203.3 552.5 2205.6 557 2207.2 561.2C2208.9 565.4 2209.8 570.2 2211 573.7C2212.2 577.2 2213.3 580.2 2214.8 582.5C2216.2 584.7 2217.5 586.4 2219.8 587.5C2222 588.5 2225.4 588.6 2228.5 589C2231.6 589.3 2235.2 589 2238.5 589.5C2241.8 590 2245.2 591.3 2248.5 592C2251.8 592.6 2255.2 593.2 2258.5 593.5C2261.8 593.7 2265.2 593.2 2268.5 593.2C2271.8 593.2 2275.2 593.2 2278.5 593.7C2281.8 594.2 2285.6 595.7 2288.5 596.2C2291.4 596.7 2293.5 597.1 2296 596.7C2298.5 596.3 2300.8 595.5 2303.5 593.7C2306.2 592 2309.5 589 2312.2 586.2C2315 583.4 2317.5 579.1 2319.8 577C2322 574.8 2323.3 574 2326 573.2C2328.7 572.5 2332.7 572.7 2336 572.5C2339.3 572.2 2343.1 572.4 2346 572C2348.9 571.5 2351 571.3 2353.5 570C2356 568.6 2358.3 566 2361 563.7C2363.7 561.4 2367.2 558.7 2369.8 556.2C2372.2 553.7 2373.9 550.5 2376 548.7C2378.1 547 2380 546.4 2382.2 545.7C2384.5 545 2387 545 2389.8 544.7C2392.5 544.4 2395.8 544.5 2398.5 543.7C2401.2 542.9 2403.5 542 2406 540C2408.5 537.9 2410.8 534.1 2413.5 531.2C2416.2 528.3 2419.3 525 2422.2 522.5C2425.2 519.9 2428.1 517.8 2431 515.7C2433.9 513.6 2437 511.6 2439.8 509.9C2442.5 508.3 2445 506.6 2447.2 505.7C2449.5 504.8 2451.6 504.3 2453.5 504.4C2455.4 504.6 2457 504.7 2458.5 506.7C2460 508.7 2461 513 2462.2 516.2C2463.5 519.5 2464.5 523.9 2466 526.2C2467.5 528.5 2468.9 529.7 2471 530.2C2473.1 530.7 2476 530 2478.5 529.2C2481 528.4 2483.5 527.1 2486 525.5C2488.5 523.8 2491.2 521.5 2493.5 519.2C2495.8 517 2497.9 513.9 2499.8 511.9C2501.6 510 2503.1 508.3 2504.8 507.4C2506.4 506.6 2508.1 506.3 2509.8 506.9C2511.4 507.6 2513.4 508.8 2514.8 511.2C2516.1 513.6 2516.7 515.8 2517.8 521.2C2518.8 526.6 2519.8 536.6 2521 543.7C2522.2 550.8 2523.5 557 2524.8 563.7C2526 570.4 2527.5 576.6 2528.5 583.7C2529.5 590.8 2530.2 598.7 2531 606.2C2531.8 613.7 2532.2 622.5 2533 628.7C2533.8 635 2534.4 640 2535.5 643.7C2536.6 647.4 2538.4 649.5 2539.8 650.7C2541.1 652 2542 652 2543.5 651.2C2545 650.5 2546.8 648.3 2548.5 646.2C2550.2 644.1 2551.8 640.7 2553.5 638.7C2555.2 636.7 2556.8 635.2 2558.5 634.5C2560.2 633.7 2561.8 633.7 2563.5 634.5C2565.2 635.2 2566.6 637 2568.5 638.7C2570.4 640.5 2572.7 643.7 2574.8 645C2576.8 646.2 2578.9 646.5 2581 646.2C2583.1 645.9 2585.2 644.3 2587.2 643.2C2589.3 642.1 2591.4 640.1 2593.5 639.5C2595.6 638.8 2597.7 639 2599.8 639.5C2601.8 639.9 2603.7 641.2 2606 642C2608.3 642.7 2611 644.1 2613.5 644.2C2616 644.3 2618.5 643.5 2621 642.5C2623.5 641.5 2626 639.3 2628.5 638.2C2631 637.1 2633.5 636.3 2636 635.7C2638.5 635.1 2641.2 634.7 2643.5 634.5C2645.8 634.2 2648.7 634.2 2649.8 634.2" fill="none" stroke="#66e2a4" stroke-width="1.75" stroke-linejoin="round"/>
<path d="M166.2 887.2C167.7 889.2 172.5 896 175 899.2C177.5 902.4 179.6 904.8 181.2 906.2C182.9 907.6 183.8 907.8 185 907.5C186.2 907.1 187.7 906.4 188.8 904.2C189.8 902 190.6 898.4 191.2 894.2C191.9 890 192 884.6 192.5 879.2C193 873.8 193.7 867.1 194.5 861.7C195.3 856.3 196.2 850.9 197.5 846.7C198.8 842.5 200.4 839.1 202.5 836.7C204.6 834.3 207.5 833.3 210 832.5C212.5 831.6 215 831.7 217.5 831.7C220 831.7 222.9 831.8 225 832.5C227.1 833.1 228.3 833.9 230 835.5C231.7 837 233.1 839.4 235 841.7C236.9 844 239.2 845.9 241.2 849.2C243.3 852.5 245.6 858.6 247.5 861.7C249.4 864.8 250.8 866.8 252.5 868C254.2 869.1 255.6 869.1 257.5 868.7C259.4 868.3 261.7 867 263.8 865.5C265.8 863.9 267.7 862.3 270 859.2C272.3 856.1 275.4 851.7 277.5 846.7C279.6 841.7 280.8 834.6 282.5 829.2C284.2 823.8 285.4 818.6 287.5 814.2C289.6 809.8 292.1 806.1 295 803C297.9 799.8 301.7 797.7 305 795.5C308.3 793.2 311.9 790.9 315 789.2C318.1 787.5 321.5 786.2 323.8 785.5C326 784.7 327.3 784.3 328.8 785C330.2 785.6 331.4 786.4 332.5 789.2C333.6 792 334.6 797.1 335.5 801.7C336.4 806.3 337 812.7 338 816.7C339 820.7 340.1 823.6 341.2 825.5C342.4 827.3 343.8 827.9 345 827.7C346.2 827.5 347.6 826.5 348.8 824.2C349.9 822 351 817.5 352 814.2C353 810.9 353.7 806.7 355 804.2C356.3 801.7 357.9 800.2 360 799.2C362.1 798.2 364.2 798.4 367.5 798.2C370.8 798 377.1 798 380 798.2C382.9 798.5 383.5 797.9 385 799.7C386.5 801.5 387.5 805.7 388.8 809.2C390 812.7 391 818.2 392.5 820.5C394 822.7 395.4 822.5 397.5 823C399.6 823.5 401.7 823.4 405 823.5C408.3 823.5 414.6 824 417.5 823.5C420.4 823 421.2 822.4 422.5 820.5C423.8 818.5 424.5 814.5 425.5 811.7C426.5 808.9 427.4 805.5 428.8 803.7C430.1 801.9 432.1 800.7 433.8 800.7C435.4 800.7 436.9 801.7 438.8 803.7C440.6 805.7 442.9 810.7 445 813C447.1 815.2 449.2 816.7 451.2 817.2C453.3 817.7 455.4 817.3 457.5 816.2C459.6 815.1 461.7 812.9 463.8 810.5C465.8 808 467.7 804.8 470 801.7C472.3 798.6 475 795.7 477.5 791.7C480 787.7 482.7 782.5 485 778C487.3 773.4 489.6 769 491.2 764.2C492.9 759.4 493.9 753.4 495 749.2C496.1 745 496.5 741.6 498 739.2C499.5 736.8 501.8 735.5 503.8 735C505.8 734.5 507.7 735.4 510 736.2C512.3 737 514.8 738.5 517.5 740C520.2 741.4 523.8 742.8 526.2 744.7C528.8 746.6 530.6 749.6 532.5 751.2C534.4 752.8 535 753.6 537.5 754.2C540 754.8 543.8 755 547.5 754.7C551.2 754.4 555.8 753.6 560 752.5C564.2 751.3 569.2 749.2 572.5 748C575.8 746.7 577.3 745.9 580 745C582.7 744 586.2 743.8 588.8 742.5C591.2 741.1 593.1 739.5 595 736.7C596.9 733.9 598.6 729.2 600 725.5C601.4 721.7 602.4 717.3 603.2 714.2C604.1 711.1 604.1 710.5 605 706.7C605.9 702.9 607.1 695.2 608.8 691.2C610.4 687.2 611.9 685.2 615 682.5C618.1 679.7 623.3 677.5 627.5 675C631.7 672.5 636.2 668.9 640 667.5C643.8 666 645.8 666.1 650 666.2C654.2 666.3 660.8 668.4 665 668.2C669.2 668 672.1 667.8 675 665C677.9 662.1 680 658.1 682.5 651.2C685 644.3 687.5 635 690 623.7C692.5 612.5 694.6 597.9 697.5 583.7C700.4 569.5 704.6 549.3 707.5 538.7C710.4 528.1 712.9 523.6 715 520C717.1 516.3 718.3 516.5 720 517C721.7 517.4 723.5 517.6 725 522.5C726.5 527.3 727.5 536.8 728.8 546.2C730 555.6 730.6 567.9 732.5 578.7C734.4 589.5 737.5 602.5 740 611.2C742.5 620 745 626.8 747.5 631.2C750 635.6 752.7 637.7 755 637.5C757.3 637.2 759.2 633.1 761.2 630C763.3 626.8 765.5 620.9 767.5 618.7C769.5 616.5 771.2 616.1 773.5 616.7C775.8 617.3 778.9 620.7 781.5 622.5C784.1 624.2 786.7 626.9 789 627.5C791.3 628 793.4 627.4 795.2 625.7C797.1 624 798.6 620.3 800.2 617.5C801.9 614.6 803.6 610.6 805.2 608.7C806.9 606.8 808.6 606 810.2 606.2C811.9 606.4 813.8 607.5 815.2 610C816.7 612.5 817.5 617.5 819 621.2C820.5 625 822.1 629.5 824 632.5C825.9 635.4 827.3 636.9 830.2 638.7C833.2 640.5 838 641.1 841.5 643.2C845 645.3 848.2 647.8 851.5 651.2C854.8 654.6 858.2 659.3 861.5 663.7C864.8 668.1 868.6 672.9 871.5 677.5C874.4 682 876.3 684.7 879 691.2C881.7 697.7 885.7 710.6 887.8 716.7C889.8 722.8 889.8 723.8 891.5 728C893.2 732.1 895.7 737.3 897.8 741.7C899.8 746.1 901.9 750.7 904 754.2C906.1 757.7 908.2 761 910.2 763C912.3 765 914.4 765.9 916.5 766.2C918.6 766.5 920.7 766.1 922.8 764.7C924.8 763.3 926.9 761 929 758C931.1 755 933.4 750.7 935.2 746.7C937.1 742.7 938.8 738.8 940.2 734.2C941.7 729.6 942.8 723.2 944 719.2C945.2 715.2 946.4 712.3 947.8 710.5C949.1 708.6 950.5 707.7 952 708C953.5 708.2 955.1 709.2 956.5 711.7C957.9 714.2 959 719.6 960.2 723C961.5 726.3 962.3 729.4 964 731.7C965.7 734 968.2 736.2 970.2 736.7C972.3 737.2 974.4 736.4 976.5 734.7C978.6 733 980.9 729.7 982.8 726.7C984.6 723.7 985.5 723 987.8 716.7C990 710.4 994.4 694.8 996.5 688.7C998.6 682.6 998.6 682 1000.2 680C1001.9 677.9 1004.2 676.5 1006.5 676.2C1008.8 675.9 1011.3 677.3 1014 678C1016.7 678.6 1020.2 680.2 1022.8 680C1025.2 679.7 1027.3 679.7 1029 676.2C1030.7 672.7 1031.7 666.6 1032.8 658.7C1033.8 650.8 1034.2 638.3 1035.2 628.7C1036.3 619.1 1037.5 610 1039 601.2C1040.5 592.5 1042.3 584.1 1044 576.2C1045.7 568.3 1047.3 559.5 1049 553.7C1050.7 547.9 1052.3 543.7 1054 541.2C1055.7 538.7 1057.3 538.6 1059 538.7C1060.7 538.8 1062.5 539.2 1064 541.7C1065.5 544.2 1066.5 549.2 1067.8 553.7C1069 558.2 1070 563.7 1071.5 568.7C1073 573.7 1074.8 578.7 1076.5 583.7C1078.2 588.7 1079.8 593.7 1081.5 598.7C1083.2 603.7 1084.8 610 1086.5 613.7C1088.2 617.4 1089.8 619.3 1091.5 620.7C1093.2 622.1 1094.8 622.5 1096.5 622C1098.2 621.4 1099.6 620.1 1101.5 617.5C1103.4 614.8 1105.2 609.4 1107.8 606.2C1110.2 603 1113.4 600.2 1116.5 598.2C1119.6 596.2 1123.8 594.9 1126.5 594.2C1129.2 593.5 1130.9 593.5 1132.8 594.2C1134.6 595 1136.3 595.9 1137.8 598.7C1139.2 601.5 1140.2 606.6 1141.5 611.2C1142.8 615.8 1143.6 620.8 1145.2 626.2C1146.9 631.6 1149.4 637.9 1151.5 643.7C1153.6 649.5 1155.9 656.6 1157.8 661.2C1159.6 665.8 1161.2 669.2 1162.8 671.2C1164.3 673.2 1165.5 673.6 1167 673C1168.5 672.3 1170.2 671.1 1171.5 667.5C1172.8 663.8 1173.7 657.7 1174.8 651.2C1175.8 644.7 1176.6 635 1177.8 628.7C1178.9 622.5 1180.2 616.7 1181.5 613.7C1182.8 610.7 1184 610.2 1185.2 610.5C1186.5 610.7 1187.5 611.5 1189 615C1190.5 618.4 1192.3 625.8 1194 631.2C1195.7 636.6 1197.5 644 1199 647.5C1200.5 650.9 1201.5 651.7 1202.8 651.7C1204 651.7 1205.5 650.9 1206.5 647.5C1207.5 644 1208.2 638.9 1209 631.2C1209.8 623.5 1210.2 611.6 1211 601.2C1211.8 590.8 1212.9 577.9 1214 568.7C1215.1 559.5 1216.3 551.8 1217.8 546.2C1219.2 540.6 1220.5 537.9 1222.8 535C1225 532 1228.4 531 1231.5 528.7C1234.6 526.4 1238.2 523.3 1241.5 521.2C1244.8 519.1 1249 517.1 1251.5 516.2C1254 515.3 1255 515.1 1256.5 515.7C1258 516.3 1259.2 516.1 1260.2 520C1261.3 523.8 1262 530.6 1262.8 538.7C1263.5 546.8 1264 559.1 1264.8 568.7C1265.5 578.3 1266.1 589.1 1267 596.2C1267.9 603.3 1269.1 608 1270.2 611.2C1271.4 614.4 1272.8 615.2 1274 615.2C1275.2 615.2 1276.3 614.4 1277.8 611.2C1279.2 608 1280.9 602 1282.8 596.2C1284.6 590.4 1286.7 582.5 1289 576.2C1291.3 570 1293.6 565 1296.5 558.7C1299.4 552.5 1303.6 545.4 1306.5 538.7C1309.4 532 1311.9 526.2 1314 518.7C1316.1 511.2 1317.5 500.8 1319 493.7C1320.5 486.6 1321.4 480 1322.8 476.2C1324.1 472.4 1325.6 471.1 1327 470.7C1328.4 470.3 1329.6 470.7 1331 473.7C1332.4 476.7 1333.7 483.3 1335.2 488.7C1336.8 494.1 1338.4 500.8 1340.2 506.2C1342.1 511.6 1344.2 517.7 1346.5 521.2C1348.8 524.7 1351.1 525.5 1354 527.5C1356.9 529.5 1360.2 531 1364 533.2C1367.8 535.4 1372.8 537.9 1376.5 540.7C1380.2 543.5 1383.6 547 1386.5 550C1389.4 553 1391.9 556.7 1394 558.7C1396.1 560.7 1397.3 562 1399 562C1400.7 562 1402.5 562.6 1404 558.7C1405.5 554.8 1406.7 546.2 1407.8 538.7C1408.8 531.2 1409.2 520.2 1410.2 513.7C1411.3 507.2 1412.8 503.1 1414 499.9C1415.2 496.8 1415.8 496.5 1417.5 494.9C1419.2 493.4 1421.9 491.6 1424.2 490.7C1426.6 489.8 1429.5 489.4 1431.8 489.4C1434 489.4 1436.3 489.2 1438 490.7C1439.7 492.2 1440.8 494.9 1441.8 498.7C1442.7 502.5 1443 509.1 1443.8 513.7C1444.5 518.3 1445.1 523 1446 526.2C1446.9 529.5 1447.9 531.8 1449.2 533.2C1450.6 534.6 1452.2 534.8 1454.2 534.5C1456.3 534.1 1459.5 532.2 1461.8 531.2C1464 530.2 1466 529 1468 528.7C1470 528.4 1471.8 528.4 1473.5 529.5C1475.2 530.5 1476.4 532.8 1478 535C1479.6 537.1 1481.3 540.6 1483 542.5C1484.7 544.3 1486.3 545.8 1488 546.2C1489.7 546.6 1491.4 546.4 1493 545C1494.6 543.5 1496 541 1497.5 537.5C1499 533.9 1500.2 528.3 1501.8 523.7C1503.3 519.1 1504.9 514.7 1506.8 509.9C1508.6 505.2 1510.9 499.9 1513 494.9C1515.1 489.9 1517.2 484.1 1519.2 479.9C1521.3 475.8 1523.4 472.6 1525.5 469.9C1527.6 467.3 1529.7 465.9 1531.8 464.2C1533.8 462.5 1535.7 462.1 1538 459.9C1540.3 457.8 1543.4 454.1 1545.5 451.2C1547.6 448.3 1548.8 446.7 1550.5 442.4C1552.2 438.2 1554 430.2 1556 425.7C1558 421.2 1559.8 418.8 1562.2 415.7C1564.8 412.6 1568.5 410.3 1571 406.9C1573.5 403.6 1575.4 400.9 1577.2 395.7C1579.1 390.5 1581 383.2 1582.2 375.7C1583.5 368.2 1583.9 357.8 1584.8 350.7C1585.6 343.6 1586.2 337.6 1587.2 333.2C1588.3 328.8 1589.1 326.2 1591 324.4C1592.9 322.7 1595.2 322.9 1598.5 322.4C1601.8 322 1607.5 321.8 1611 321.9C1614.5 322.1 1617.2 321.7 1619.8 323.2C1622.2 324.7 1623.7 327.6 1626 330.7C1628.3 333.8 1631.4 338 1633.5 341.9C1635.6 345.9 1636.8 350.9 1638.5 354.4C1640.2 358 1641.6 361.4 1643.5 363.2C1645.4 365 1647.2 365.5 1649.8 365.2C1652.2 364.9 1655.6 363.8 1658.5 361.2C1661.4 358.6 1664.8 353.7 1667.2 349.4C1669.8 345.2 1671.4 340.9 1673.5 335.7C1675.6 330.5 1677.5 323.2 1679.8 318.2C1682 313.2 1684.8 309.1 1687.2 305.7C1689.8 302.3 1692.5 299.5 1694.8 297.7C1697 295.9 1699.1 295.1 1701 294.9C1702.9 294.8 1704.7 294.3 1706 296.9C1707.3 299.6 1708.1 305.1 1709 310.7C1709.9 316.3 1710.5 325.7 1711.5 330.7C1712.5 335.7 1713.4 338.6 1714.8 340.7C1716.1 342.8 1717.9 343.1 1719.8 343.2C1721.6 343.3 1723.7 342 1726 341.2C1728.3 340.4 1731.2 338.8 1733.5 338.2C1735.8 337.6 1737.4 337.5 1739.5 337.7C1741.6 337.9 1744.3 338.1 1746.2 339.4C1748.2 340.8 1749.6 342.8 1751.2 345.7C1752.9 348.6 1754.6 352.4 1756.2 356.9C1757.9 361.5 1759.8 367.6 1761.2 373.2C1762.7 378.8 1763.9 384.4 1765 390.7C1766.1 396.9 1767 404.9 1768 410.7C1769 416.5 1769.5 418.9 1771.2 425.7C1773 432.4 1776.5 444.7 1778.8 451.2C1781 457.7 1782.7 460.8 1785 464.9C1787.3 469.1 1790 473.6 1792.5 476.2C1795 478.8 1797.5 479.5 1800 480.4C1802.5 481.4 1805.4 479.9 1807.5 481.7C1809.6 483.5 1811 486.7 1812.5 491.2C1814 495.7 1815.1 501.6 1816.2 508.7C1817.4 515.8 1818.5 525.4 1819.5 533.7C1820.5 542 1821.2 551.4 1822 558.7C1822.8 566 1823.6 573.1 1824.5 577.5C1825.4 581.8 1826.4 584.7 1827.5 585C1828.6 585.2 1830.2 583.1 1831.2 578.7C1832.3 574.3 1832.9 565.8 1833.8 558.7C1834.6 551.6 1835.2 542 1836.2 536.2C1837.3 530.4 1838.5 526.5 1840 523.7C1841.5 520.9 1843.1 519.7 1845 519.5C1846.9 519.2 1849 521.2 1851.2 522.5C1853.5 523.7 1856.5 525.8 1858.8 526.7C1861 527.6 1863.1 528.5 1865 528C1866.9 527.5 1868.5 526.9 1870 523.7C1871.5 520.5 1872.3 513.7 1873.8 508.7C1875.2 503.7 1876.7 497.9 1878.8 493.7C1880.8 489.5 1883.8 486.1 1886.2 483.7C1888.8 481.3 1891.5 480 1893.8 479.2C1896 478.4 1898.1 478.2 1900 478.7C1901.9 479.2 1903.3 480.4 1905 482.4C1906.7 484.5 1908.3 488.3 1910 491.2C1911.7 494.1 1913.5 498.3 1915 499.9C1916.5 501.6 1917.3 501.8 1918.8 501.2C1920.2 500.6 1922.3 499.5 1923.8 496.2C1925.2 492.9 1926.4 487.4 1927.5 481.2C1928.6 474.9 1928.8 468.8 1930.5 458.7C1932.2 448.6 1935.9 430.4 1937.5 420.7C1939.1 411 1939.1 407.4 1940 400.7C1940.9 394 1942 386.1 1943 380.7C1944 375.3 1944.9 371.2 1946.2 368.2C1947.6 365.2 1949.4 363.5 1951.2 362.7C1953.1 361.9 1955.2 362.3 1957.5 363.2C1959.8 364.1 1962.5 366.1 1965 368.2C1967.5 370.3 1970.4 372.8 1972.5 375.7C1974.6 378.6 1976 382.6 1977.5 385.7C1979 388.8 1979.8 392.3 1981.2 394.4C1982.7 396.6 1984 397.9 1986.2 398.7C1988.5 399.5 1992.1 399.7 1995 399.4C1997.9 399.2 2001 398.2 2003.8 396.9C2006.5 395.7 2009 394.2 2011.2 391.9C2013.5 389.7 2015.6 385.8 2017.5 383.2C2019.4 380.6 2021 377.4 2022.5 376.2C2024 374.9 2025 374.9 2026.2 375.7C2027.5 376.4 2029.1 378.9 2030 380.7C2030.9 382.5 2031 384 2031.5 386.7C2032 389.4 2032.7 393 2033.2 396.8C2033.7 400.5 2034.2 405.2 2034.7 409.1C2035.1 413 2035.5 416.7 2036 420.3C2036.5 423.8 2037 427.5 2037.7 430.4C2038.3 433.3 2039.1 435.9 2039.9 437.6C2040.7 439.4 2041.7 440.8 2042.5 441C2043.3 441.2 2044.2 440.2 2045 438.8C2045.7 437.4 2046.4 435.3 2047.2 432.6C2047.9 429.9 2048.7 426.1 2049.4 422.5C2050.2 419 2050.9 414.7 2051.7 411.3C2052.4 408 2053.1 405 2053.9 402.4C2054.8 399.8 2055.8 397.2 2056.7 395.6C2057.6 394.1 2058.8 393.6 2059.5 393.1C2060.3 392.5 2060.1 392 2061.2 392.4C2062.4 392.9 2064.6 393.5 2066.2 395.7C2067.9 397.9 2069.7 401.5 2071.2 405.7C2072.8 409.9 2073.8 411 2075.5 420.7C2077.2 430.4 2079.9 448.2 2081.2 463.7C2082.6 479.2 2083 495 2083.8 513.7C2084.5 532.5 2085.1 555.4 2085.8 576.2C2086.4 597 2086.9 622 2087.5 638.7C2088.1 655.4 2088.6 666.6 2089.2 676.2C2089.9 685.8 2090.5 691.4 2091.2 696.2C2092 701 2092.9 703.4 2093.8 705C2094.6 706.5 2095.2 706.5 2096.2 705.7C2097.3 704.9 2098.3 703.2 2100 700C2101.7 696.7 2104.2 691.4 2106.2 686.2C2108.3 681 2110.6 675 2112.5 668.7C2114.4 662.5 2115.8 657 2117.5 648.7C2119.2 640.4 2120.8 628.7 2122.5 618.7C2124.2 608.7 2125.8 599.1 2127.5 588.7C2129.2 578.3 2130.8 566.2 2132.5 556.2C2134.2 546.2 2136 536.2 2137.5 528.7C2139 521.2 2140 515.6 2141.2 511.2C2142.5 506.8 2143.6 504.3 2145 502.4C2146.4 500.6 2148 499.9 2149.5 499.9C2151 499.9 2151.8 499.7 2153.8 502.4C2155.7 505.2 2158.5 510.6 2161 516.2C2163.5 521.8 2166 529.5 2168.5 536.2C2171 542.9 2173.5 549.3 2176 556.2C2178.5 563.1 2181 570 2183.5 577.5C2186 585 2188.5 594.3 2191 601.2C2193.5 608.1 2196 613.7 2198.5 618.7C2201 623.7 2203.5 627.9 2206 631.2C2208.5 634.5 2211.2 637 2213.5 638.7C2215.8 640.5 2217.9 641.5 2219.8 641.7C2221.6 641.9 2223.3 641.7 2224.8 640C2226.2 638.2 2227.2 634.7 2228.5 631.2C2229.8 627.7 2230.8 621.8 2232.2 618.7C2233.7 615.6 2235 613.7 2237.2 612.5C2239.5 611.2 2242.9 611.5 2246 611.2C2249.1 610.9 2253.1 611.2 2256 610.5C2258.9 609.7 2261 608.2 2263.5 606.7C2266 605.2 2268.9 602.6 2271 601.7C2273.1 600.8 2274.3 600.9 2276 601.2C2277.7 601.5 2279.3 601.8 2281 603.7C2282.7 605.6 2284.1 609.1 2286 612.5C2287.9 615.8 2290.2 619.7 2292.2 623.7C2294.3 627.7 2296.4 632 2298.5 636.2C2300.6 640.4 2302.9 646 2304.8 648.7C2306.6 651.4 2308.1 652.2 2309.8 652.5C2311.4 652.7 2313.4 652.2 2314.8 650C2316.1 647.7 2316.8 643.5 2317.8 638.7C2318.7 633.9 2319.3 627 2320.2 621.2C2321.2 615.4 2322.1 608.7 2323.5 603.7C2324.9 598.7 2326.4 594.5 2328.5 591.2C2330.6 587.9 2333.1 585.4 2336 583.7C2338.9 582 2342.7 581.8 2346 581.2C2349.3 580.6 2352.9 580.5 2356 580.2C2359.1 579.9 2362.5 580.3 2364.8 579.2C2367 578.1 2368.4 576.7 2369.8 573.7C2371.1 570.7 2372 565.2 2373 561.2C2374 557.2 2374.7 552.2 2376 550C2377.3 547.7 2378.9 547.8 2381 547.5C2383.1 547.1 2386 547.3 2388.5 548C2391 548.6 2393.7 549.6 2396 551.2C2398.3 552.8 2400.4 555 2402.2 557.5C2404.1 560 2405.6 563.5 2407.2 566.2C2408.9 568.9 2410.2 571.9 2412.2 573.7C2414.3 575.5 2417 576.3 2419.8 577C2422.5 577.6 2425.8 577.3 2428.5 577.7C2431.2 578.1 2433.9 578 2436 579.5C2438.1 580.9 2439.7 583 2441 586.2C2442.3 589.4 2443.1 593.7 2444 598.7C2444.9 603.7 2445.5 611.6 2446.5 616.2C2447.5 620.8 2448.6 624.1 2449.8 626.2C2450.9 628.3 2452 628.9 2453.5 628.7C2455 628.5 2456.6 626.8 2458.5 625C2460.4 623.1 2462.7 619.1 2464.8 617.5C2466.8 615.8 2468.7 615.1 2471 615C2473.3 614.8 2476 616 2478.5 616.7C2481 617.5 2483.7 619.1 2486 619.5C2488.3 619.8 2490 619.5 2492.2 618.7C2494.5 618 2497.5 616.1 2499.8 615C2502 613.8 2504.1 612.2 2506 611.7C2507.9 611.2 2509.5 610.8 2511 612C2512.5 613.1 2513.8 614.7 2514.8 618.7C2515.7 622.7 2516.2 629.5 2516.8 636.2C2517.3 642.9 2517.6 651.8 2518 658.7C2518.4 665.6 2518.8 670.6 2519 677.5C2519.2 684.3 2519.2 691.2 2519.5 700C2519.8 708.8 2520.1 720 2520.5 730C2520.9 740 2521.1 752.5 2522 760C2522.9 767.5 2523.8 772 2526 775C2528.2 778 2531 778.8 2535 778C2539 777.2 2545 771 2550 770C2555 769 2560 770.7 2565 772C2570 773.3 2575 776.7 2580 778C2585 779.3 2590.5 780.3 2595 780C2599.5 779.7 2603.7 778 2607 776C2610.3 774 2612.8 769.9 2614.8 768.2C2616.7 766.6 2617 768 2618.5 766.2C2620 764.5 2621.8 761 2623.5 757.5C2625.2 754 2626.8 748.8 2628.5 745C2630.2 741.2 2631.6 738.1 2633.5 735C2635.4 731.9 2637.7 728.5 2639.8 726.2C2641.8 724 2644.2 722.5 2646 721.2C2647.8 720 2649.8 719.2 2650.5 718.8" fill="none" stroke="#fbd465" stroke-width="1.75" stroke-linejoin="round"/>
<path d="M2455 900.3C2455.5 900.4 2456 902.1 2457.2 902.3C2458.4 902.5 2460.4 901.6 2462.1 901.4C2463.9 901.2 2465.9 901.1 2467.5 901.2C2469.1 901.3 2470.6 902.2 2472 902.1C2473.4 901.9 2475.1 900 2476 900.3C2476.9 900.5 2477 902.3 2477.3 903.4C2477.6 904.5 2477.3 906.2 2477.8 907C2478.2 907.7 2478.9 907.5 2480 907.9C2481.1 908.2 2483.3 908.5 2484.5 909.2C2485.7 909.9 2486.6 911.4 2487.1 912.3C2487.7 913.3 2488 914.3 2487.6 915C2487.1 915.7 2485.4 916.2 2484.5 916.3C2483.6 916.5 2482.5 915.4 2482.2 915.9C2481.9 916.4 2482.7 918.1 2482.7 919.5C2482.7 920.8 2482.6 922.6 2482.2 923.9C2481.9 925.3 2481.3 926.4 2480.4 927.5C2479.6 928.6 2478.1 930 2477.3 930.6C2476.6 931.3 2476.1 931.1 2476 931.5C2475.8 931.9 2475.8 932.3 2476.4 932.9C2477 933.4 2478.8 933.9 2479.6 934.6C2480.3 935.4 2481 936.4 2481.1 937.3C2481.1 938.3 2480.6 939.6 2480 940.4C2479.4 941.3 2478 941.7 2477.3 942.2C2476.7 942.8 2476.3 942.8 2476 943.6C2475.7 944.4 2475.9 946 2475.5 947.1C2475.2 948.3 2474.6 950 2473.8 950.7C2472.9 951.4 2471.1 951.4 2470.2 951.4C2469.2 951.4 2468.5 951.4 2467.9 950.7C2467.4 950 2467.3 948 2467.1 947.1C2466.8 946.2 2466.9 945.7 2466.6 945.4C2466.3 945.1 2465.6 944.9 2465.3 945.4C2464.9 945.8 2464.7 947.1 2464.4 948C2464.1 948.9 2464.2 950.1 2463.5 950.7C2462.8 951.3 2461.3 951.6 2460.4 951.6C2459.4 951.6 2458.4 951.3 2457.7 950.7C2456.9 950.1 2456.3 948.6 2455.9 948C2455.5 947.4 2455.8 947.3 2455.4 947.1C2455.1 947 2454.3 946.8 2453.7 947.1C2453 947.4 2452.2 948.3 2451.4 948.9C2450.7 949.5 2449.4 950.7 2449.2 950.7C2449 950.7 2449.6 949.5 2450.1 948.9C2450.6 948.3 2451.7 947.7 2452.3 947.1C2453 946.6 2453.7 946.2 2454.1 945.8C2454.6 945.4 2455.2 945.4 2455 944.9C2454.8 944.4 2453.4 943.5 2452.8 942.7C2452.1 941.9 2451.3 941 2451 940C2450.7 939 2450.7 937.8 2451 936.9C2451.3 935.9 2452 934.9 2452.8 934.2C2453.5 933.5 2454.9 933.3 2455.4 932.9C2456 932.4 2456.4 932.1 2455.9 931.5C2455.4 930.9 2453.4 930.3 2452.3 929.3C2451.2 928.3 2449.9 927.1 2449.2 925.7C2448.5 924.4 2448.1 922.7 2447.9 921.2C2447.6 919.8 2448 917.7 2447.9 916.8C2447.7 915.9 2447.6 916 2447 915.9C2446.4 915.7 2445 916.1 2444.3 915.9C2443.5 915.7 2442.6 915.3 2442.5 914.6C2442.4 913.8 2442.8 912.3 2443.4 911.4C2444 910.5 2445 909.8 2446.1 909.2C2447.1 908.6 2448.5 908.2 2449.6 907.9C2450.8 907.6 2452.2 908 2452.8 907.4C2453.4 906.8 2453 905.3 2453.2 904.3C2453.4 903.3 2453.8 902.3 2454.1 901.6C2454.4 900.9 2454.5 900.1 2455 900.3Z" fill="#919394"/>
<text x="2497.24" y="936.9" textLength="145.51" lengthAdjust="spacingAndGlyphs" font-size="36.5" fill="#919394" font-weight="bold" stroke="#919394" stroke-width="0.4" stroke-linejoin="round">coinglass</text>
<circle cx="2650.4" cy="633.6" r="8.8" fill="#ffffff" stroke="#5cc48d" stroke-width="3.9"/>
<circle cx="2650.4" cy="718.8" r="8.8" fill="#ffffff" stroke="#e6bc5c" stroke-width="3.9"/>
<path d="M157.3 636H2659" stroke="#ffffff" stroke-opacity="0.92" stroke-width="2" stroke-dasharray="8 4" fill="none"/>
<path d="M2651 177V976" stroke="#ffffff" stroke-opacity="0.65" stroke-width="2" stroke-dasharray="8 4" fill="none"/>
<rect x="63.5" y="613" width="87.75" height="44" rx="6" fill="#000"/>
<text x="77.2" y="641.9" textLength="60.02" lengthAdjust="spacingAndGlyphs" font-size="24" fill="#ffffff" stroke="#ffffff" stroke-width="0.5" stroke-linejoin="round">7.69B</text>
<rect x="2665.4" y="613" width="98.5" height="44" rx="6" fill="#000"/>
<text x="2679.54" y="641.8" textLength="69.7" lengthAdjust="spacingAndGlyphs" font-size="24" fill="#ffffff" stroke="#ffffff" stroke-width="0.5" stroke-linejoin="round">183.26</text>
<rect x="2206" y="681" width="409" height="209" rx="20" fill="#000" opacity="0.35" filter="url(#sh)"/>
<rect x="2206" y="677" width="409" height="209" rx="20" fill="#03040a"/>
<text x="2236.78" y="738.8" textLength="250.83" lengthAdjust="spacingAndGlyphs" font-size="29" fill="#ffffff" stroke="#ffffff" stroke-width="0.7" stroke-linejoin="round">11 Nov 2025, 03:00</text>
<circle cx="2246.1" cy="792.4" r="8.15" fill="#e6b95c" stroke="#dfe3ea" stroke-width="3.9"/>
<text x="2263.98" y="802.8" textLength="128.56" lengthAdjust="spacingAndGlyphs" font-size="28.5" fill="#cfd6e2" stroke="#cfd6e2" stroke-width="0.5" stroke-linejoin="round">SOL Price</text>
<text x="2480.21" y="802.8" textLength="103.64" lengthAdjust="spacingAndGlyphs" font-size="28.5" fill="#ffffff" stroke="#ffffff" stroke-width="0.8" stroke-linejoin="round">$167.34</text>
<circle cx="2246.1" cy="835.9" r="8.15" fill="#5ec48c" stroke="#dfe3ea" stroke-width="3.9"/>
<text x="2263.86" y="846.4" textLength="186.77" lengthAdjust="spacingAndGlyphs" font-size="28.5" fill="#cfd6e2" stroke="#cfd6e2" stroke-width="0.5" stroke-linejoin="round">Open Interest</text>
<text x="2493.11" y="846.4" textLength="91.46" lengthAdjust="spacingAndGlyphs" font-size="28.5" fill="#ffffff" stroke="#ffffff" stroke-width="0.8" stroke-linejoin="round">$7.72B</text>
<path d="M163 1113.5L205 1113.5L280 1114.2L355 1114.2L405 1113.5L430 1112L437.5 1110L442.5 1111L455 1110.8L477.5 1110.2L480 1109.2L487.5 1108.5L495 1106.8L505 1107L512.5 1104.5L516.2 1101.5L520 1102.5L524.5 1100.8L530 1102L540 1102L545.5 1099.5L552.5 1106.2L555 1105.5L561.2 1106.8L566.2 1103.8L572.5 1102.5L577.5 1104.2L583 1103L589.5 1107L597.5 1105.5L610 1104.5L617.5 1106.2L626.2 1107.8L635 1106.8L641.2 1104.2L645 1105L650 1103.2L658.8 1102.5L663.8 1095L667.5 1092L671.2 1094.2L675 1093.8L680 1083.8L685.5 1075L690.8 1059.5L693.8 1062.5L697 1064.5L700 1069.5L702.5 1066.2L706.2 1076.8L709.5 1073L716.2 1076.8L720 1072.5L722.5 1066.2L726.2 1068.8L732.5 1072L742.5 1069.5L748.8 1055L750.8 1060L753.2 1055.5L757.5 1058.2L762.5 1046.2L766.2 1040L769.5 1046.2L774 1047L779 1052L784 1048L791.5 1060.5L797.8 1048.8L804 1060L812.8 1069.5L817.8 1062.5L821.5 1063.8L828.5 1057.5L832.8 1065L837.8 1063.8L845.2 1075.5L854 1072.5L859 1076.2L863.5 1088.2L871.5 1088.2L875.2 1083L877.8 1085L882.8 1081L889 1087.5L893.5 1084.5L901.5 1091.2L907.8 1089.2L912.8 1086.2L920.2 1091.2L926.5 1092.5L936.5 1088.2L944 1086.2L950.2 1080L954.5 1076.2L959 1082.5L967.8 1085.5L977.8 1084.2L986.5 1087.5L995.2 1088.8L1001.5 1095L1006 1101.8L1014 1100L1024 1102.5L1029 1101.2L1034 1103.8L1042.8 1103.8L1047.8 1106.8L1054 1105L1063.2 1102.5L1070.2 1105L1079 1103.8L1085.2 1105L1095.2 1102L1104 1104.2L1114 1103L1126.5 1101.5L1134 1103.8L1144 1105.8L1161.5 1104.5L1179 1105.5L1196.5 1105L1216.5 1106.2L1236.5 1105L1240.2 1111.2L1249 1110.5L1259 1111L1274 1110.8L1289 1111L1304 1112L1321.5 1110.5L1326.5 1108L1334 1107.5L1344 1108.2L1361.5 1109L1374 1108L1386.5 1108.5L1399 1109.5L1418 1108.5L1435.5 1109L1445.5 1107.2L1455.5 1108.8L1480.5 1109L1505.5 1108.8L1520.5 1110.5L1538 1110L1553 1109L1563 1106.8L1578 1108L1598 1107.5L1618 1109L1640.5 1109.5L1660.5 1109.2L1668 1108L1683 1108.5L1693 1105.5L1700.5 1105L1708 1102.5L1714.2 1102L1717.5 1098L1730.5 1097.8L1743 1097.2L1750.5 1096L1754.2 1093L1758 1095L1762.5 1093.5L1766.8 1093.2L1773.5 1082.5L1776.8 1082.5L1780.5 1085L1784.2 1083L1788 1086.8L1791.8 1088.8L1795.5 1085.8L1801.8 1087L1805 1085.5L1809.2 1088.2L1813.8 1090.5L1820.5 1085.8L1824.2 1087L1830 1087.5L1836.8 1083.2L1841.8 1081.2L1846.8 1083L1852.5 1085.8L1856.8 1083.8L1863 1077.5L1867.5 1078L1870 1073.8L1875 1071.2L1879.2 1063.8L1883 1056.2L1885.5 1065L1889.2 1062.5L1891.2 1065L1894.2 1060L1898 1060L1901.2 1056.2L1903.8 1062L1908 1061.2L1911.8 1062.5L1915.5 1066.2L1922.2 1075.5L1930 1069.5L1935.5 1074.2L1940.5 1078.2L1948 1071.2L1953 1073.8L1958.8 1073.8L1966.8 1061.2L1973.5 1067.5L1978 1066.2L1984.2 1067.5L1987.5 1065L1995.5 1072L2003 1074.5L2010.5 1077.5L2016 1071.8L2018 1074.5L2021 1073L2028.8 1077L2032.5 1073.8L2035.5 1075L2040.5 1068.8L2043 1068.8L2047.5 1061.8L2050.5 1065L2056.8 1061.2L2062 1066.2L2069.5 1068.2L2075.8 1072.5L2082 1074.5L2088.2 1073.2L2092 1068.8L2097 1073.8L2103.2 1078.2L2112 1076.2L2117 1075L2122 1077.5L2128.2 1072L2133.2 1071.8L2137 1068.8L2143.2 1075L2149.5 1073.8L2157 1072L2162 1071.2L2169.5 1066.2L2175.8 1063.2L2180.8 1066.2L2185 1069.2L2189.5 1059.2L2194.5 1054.5L2199 1053.8L2204.5 1046.2L2209 1040.8L2213.2 1048L2218.2 1046.8L2223.2 1049.2L2228.2 1046.2L2233.2 1052.5L2237 1051.2L2242 1055L2248.2 1062.5L2252 1058.8L2259.5 1059.2L2263.2 1052L2267 1054.5L2272 1061.2L2276.2 1062L2280.8 1051.2L2284.5 1042.5L2292 1041.2L2295.8 1048L2299.5 1047.5L2303.2 1056.2L2308.2 1060L2312 1057.5L2318.2 1058L2324.5 1066.2L2327.8 1065L2332 1075L2334.5 1076.2L2338.2 1063L2340.8 1073L2344.5 1074.5L2349.5 1080.8L2354.5 1076.8L2358.2 1078.2L2364.5 1077.5L2368.2 1074.5L2374.5 1078L2382 1081.2L2385.2 1084.2L2389.5 1080L2394.5 1078L2402 1075L2407 1070.8L2414.5 1072.5L2424.5 1072.5L2428.2 1065L2432 1062L2435.8 1066.2L2439.5 1067.5L2444.5 1064.5L2450.8 1063.8L2457 1068.8L2464.5 1072.5L2469.5 1067.5L2472 1070L2484.5 1073L2499.5 1072.5L2507 1068.8L2512 1068L2518.2 1062.5L2521.2 1061.2L2523.2 1055.5L2525.8 1061.2L2532 1062.5L2537 1068L2542 1067.5L2548.2 1060L2553.2 1061.2L2559.5 1057.5L2562 1059.2L2567.5 1053.2L2570.8 1057.5L2575.8 1053.8L2579.5 1055.8L2584.5 1051.2L2589.5 1045.8L2594.5 1044.5L2598.2 1046.2L2604 1059.2L2609.5 1053L2615 1047.5L2620.8 1051.2L2625.2 1064.5L2627 1053.8L2632 1062.5L2637 1060.8L2645.8 1057.5L2652 1060L2654.5 1063L2664 1063L2664 1137L163 1137Z" fill="#0a0e1d" clip-path="url(#unselclip)"/>
<rect x="2483.2" y="1017" width="180.8" height="120" fill="#080c1c"/>
<path d="M163 1113.5L205 1113.5L280 1114.2L355 1114.2L405 1113.5L430 1112L437.5 1110L442.5 1111L455 1110.8L477.5 1110.2L480 1109.2L487.5 1108.5L495 1106.8L505 1107L512.5 1104.5L516.2 1101.5L520 1102.5L524.5 1100.8L530 1102L540 1102L545.5 1099.5L552.5 1106.2L555 1105.5L561.2 1106.8L566.2 1103.8L572.5 1102.5L577.5 1104.2L583 1103L589.5 1107L597.5 1105.5L610 1104.5L617.5 1106.2L626.2 1107.8L635 1106.8L641.2 1104.2L645 1105L650 1103.2L658.8 1102.5L663.8 1095L667.5 1092L671.2 1094.2L675 1093.8L680 1083.8L685.5 1075L690.8 1059.5L693.8 1062.5L697 1064.5L700 1069.5L702.5 1066.2L706.2 1076.8L709.5 1073L716.2 1076.8L720 1072.5L722.5 1066.2L726.2 1068.8L732.5 1072L742.5 1069.5L748.8 1055L750.8 1060L753.2 1055.5L757.5 1058.2L762.5 1046.2L766.2 1040L769.5 1046.2L774 1047L779 1052L784 1048L791.5 1060.5L797.8 1048.8L804 1060L812.8 1069.5L817.8 1062.5L821.5 1063.8L828.5 1057.5L832.8 1065L837.8 1063.8L845.2 1075.5L854 1072.5L859 1076.2L863.5 1088.2L871.5 1088.2L875.2 1083L877.8 1085L882.8 1081L889 1087.5L893.5 1084.5L901.5 1091.2L907.8 1089.2L912.8 1086.2L920.2 1091.2L926.5 1092.5L936.5 1088.2L944 1086.2L950.2 1080L954.5 1076.2L959 1082.5L967.8 1085.5L977.8 1084.2L986.5 1087.5L995.2 1088.8L1001.5 1095L1006 1101.8L1014 1100L1024 1102.5L1029 1101.2L1034 1103.8L1042.8 1103.8L1047.8 1106.8L1054 1105L1063.2 1102.5L1070.2 1105L1079 1103.8L1085.2 1105L1095.2 1102L1104 1104.2L1114 1103L1126.5 1101.5L1134 1103.8L1144 1105.8L1161.5 1104.5L1179 1105.5L1196.5 1105L1216.5 1106.2L1236.5 1105L1240.2 1111.2L1249 1110.5L1259 1111L1274 1110.8L1289 1111L1304 1112L1321.5 1110.5L1326.5 1108L1334 1107.5L1344 1108.2L1361.5 1109L1374 1108L1386.5 1108.5L1399 1109.5L1418 1108.5L1435.5 1109L1445.5 1107.2L1455.5 1108.8L1480.5 1109L1505.5 1108.8L1520.5 1110.5L1538 1110L1553 1109L1563 1106.8L1578 1108L1598 1107.5L1618 1109L1640.5 1109.5L1660.5 1109.2L1668 1108L1683 1108.5L1693 1105.5L1700.5 1105L1708 1102.5L1714.2 1102L1717.5 1098L1730.5 1097.8L1743 1097.2L1750.5 1096L1754.2 1093L1758 1095L1762.5 1093.5L1766.8 1093.2L1773.5 1082.5L1776.8 1082.5L1780.5 1085L1784.2 1083L1788 1086.8L1791.8 1088.8L1795.5 1085.8L1801.8 1087L1805 1085.5L1809.2 1088.2L1813.8 1090.5L1820.5 1085.8L1824.2 1087L1830 1087.5L1836.8 1083.2L1841.8 1081.2L1846.8 1083L1852.5 1085.8L1856.8 1083.8L1863 1077.5L1867.5 1078L1870 1073.8L1875 1071.2L1879.2 1063.8L1883 1056.2L1885.5 1065L1889.2 1062.5L1891.2 1065L1894.2 1060L1898 1060L1901.2 1056.2L1903.8 1062L1908 1061.2L1911.8 1062.5L1915.5 1066.2L1922.2 1075.5L1930 1069.5L1935.5 1074.2L1940.5 1078.2L1948 1071.2L1953 1073.8L1958.8 1073.8L1966.8 1061.2L1973.5 1067.5L1978 1066.2L1984.2 1067.5L1987.5 1065L1995.5 1072L2003 1074.5L2010.5 1077.5L2016 1071.8L2018 1074.5L2021 1073L2028.8 1077L2032.5 1073.8L2035.5 1075L2040.5 1068.8L2043 1068.8L2047.5 1061.8L2050.5 1065L2056.8 1061.2L2062 1066.2L2069.5 1068.2L2075.8 1072.5L2082 1074.5L2088.2 1073.2L2092 1068.8L2097 1073.8L2103.2 1078.2L2112 1076.2L2117 1075L2122 1077.5L2128.2 1072L2133.2 1071.8L2137 1068.8L2143.2 1075L2149.5 1073.8L2157 1072L2162 1071.2L2169.5 1066.2L2175.8 1063.2L2180.8 1066.2L2185 1069.2L2189.5 1059.2L2194.5 1054.5L2199 1053.8L2204.5 1046.2L2209 1040.8L2213.2 1048L2218.2 1046.8L2223.2 1049.2L2228.2 1046.2L2233.2 1052.5L2237 1051.2L2242 1055L2248.2 1062.5L2252 1058.8L2259.5 1059.2L2263.2 1052L2267 1054.5L2272 1061.2L2276.2 1062L2280.8 1051.2L2284.5 1042.5L2292 1041.2L2295.8 1048L2299.5 1047.5L2303.2 1056.2L2308.2 1060L2312 1057.5L2318.2 1058L2324.5 1066.2L2327.8 1065L2332 1075L2334.5 1076.2L2338.2 1063L2340.8 1073L2344.5 1074.5L2349.5 1080.8L2354.5 1076.8L2358.2 1078.2L2364.5 1077.5L2368.2 1074.5L2374.5 1078L2382 1081.2L2385.2 1084.2L2389.5 1080L2394.5 1078L2402 1075L2407 1070.8L2414.5 1072.5L2424.5 1072.5L2428.2 1065L2432 1062L2435.8 1066.2L2439.5 1067.5L2444.5 1064.5L2450.8 1063.8L2457 1068.8L2464.5 1072.5L2469.5 1067.5L2472 1070L2484.5 1073L2499.5 1072.5L2507 1068.8L2512 1068L2518.2 1062.5L2521.2 1061.2L2523.2 1055.5L2525.8 1061.2L2532 1062.5L2537 1068L2542 1067.5L2548.2 1060L2553.2 1061.2L2559.5 1057.5L2562 1059.2L2567.5 1053.2L2570.8 1057.5L2575.8 1053.8L2579.5 1055.8L2584.5 1051.2L2589.5 1045.8L2594.5 1044.5L2598.2 1046.2L2604 1059.2L2609.5 1053L2615 1047.5L2620.8 1051.2L2625.2 1064.5L2627 1053.8L2632 1062.5L2637 1060.8L2645.8 1057.5L2652 1060L2654.5 1063L2664 1063L2664 1137L163 1137Z" fill="#222a48" clip-path="url(#selclip)"/>
<path d="M163 1113.5L205 1113.5L280 1114.2L355 1114.2L405 1113.5L430 1112L437.5 1110L442.5 1111L455 1110.8L477.5 1110.2L480 1109.2L487.5 1108.5L495 1106.8L505 1107L512.5 1104.5L516.2 1101.5L520 1102.5L524.5 1100.8L530 1102L540 1102L545.5 1099.5L552.5 1106.2L555 1105.5L561.2 1106.8L566.2 1103.8L572.5 1102.5L577.5 1104.2L583 1103L589.5 1107L597.5 1105.5L610 1104.5L617.5 1106.2L626.2 1107.8L635 1106.8L641.2 1104.2L645 1105L650 1103.2L658.8 1102.5L663.8 1095L667.5 1092L671.2 1094.2L675 1093.8L680 1083.8L685.5 1075L690.8 1059.5L693.8 1062.5L697 1064.5L700 1069.5L702.5 1066.2L706.2 1076.8L709.5 1073L716.2 1076.8L720 1072.5L722.5 1066.2L726.2 1068.8L732.5 1072L742.5 1069.5L748.8 1055L750.8 1060L753.2 1055.5L757.5 1058.2L762.5 1046.2L766.2 1040L769.5 1046.2L774 1047L779 1052L784 1048L791.5 1060.5L797.8 1048.8L804 1060L812.8 1069.5L817.8 1062.5L821.5 1063.8L828.5 1057.5L832.8 1065L837.8 1063.8L845.2 1075.5L854 1072.5L859 1076.2L863.5 1088.2L871.5 1088.2L875.2 1083L877.8 1085L882.8 1081L889 1087.5L893.5 1084.5L901.5 1091.2L907.8 1089.2L912.8 1086.2L920.2 1091.2L926.5 1092.5L936.5 1088.2L944 1086.2L950.2 1080L954.5 1076.2L959 1082.5L967.8 1085.5L977.8 1084.2L986.5 1087.5L995.2 1088.8L1001.5 1095L1006 1101.8L1014 1100L1024 1102.5L1029 1101.2L1034 1103.8L1042.8 1103.8L1047.8 1106.8L1054 1105L1063.2 1102.5L1070.2 1105L1079 1103.8L1085.2 1105L1095.2 1102L1104 1104.2L1114 1103L1126.5 1101.5L1134 1103.8L1144 1105.8L1161.5 1104.5L1179 1105.5L1196.5 1105L1216.5 1106.2L1236.5 1105L1240.2 1111.2L1249 1110.5L1259 1111L1274 1110.8L1289 1111L1304 1112L1321.5 1110.5L1326.5 1108L1334 1107.5L1344 1108.2L1361.5 1109L1374 1108L1386.5 1108.5L1399 1109.5L1418 1108.5L1435.5 1109L1445.5 1107.2L1455.5 1108.8L1480.5 1109L1505.5 1108.8L1520.5 1110.5L1538 1110L1553 1109L1563 1106.8L1578 1108L1598 1107.5L1618 1109L1640.5 1109.5L1660.5 1109.2L1668 1108L1683 1108.5L1693 1105.5L1700.5 1105L1708 1102.5L1714.2 1102L1717.5 1098L1730.5 1097.8L1743 1097.2L1750.5 1096L1754.2 1093L1758 1095L1762.5 1093.5L1766.8 1093.2L1773.5 1082.5L1776.8 1082.5L1780.5 1085L1784.2 1083L1788 1086.8L1791.8 1088.8L1795.5 1085.8L1801.8 1087L1805 1085.5L1809.2 1088.2L1813.8 1090.5L1820.5 1085.8L1824.2 1087L1830 1087.5L1836.8 1083.2L1841.8 1081.2L1846.8 1083L1852.5 1085.8L1856.8 1083.8L1863 1077.5L1867.5 1078L1870 1073.8L1875 1071.2L1879.2 1063.8L1883 1056.2L1885.5 1065L1889.2 1062.5L1891.2 1065L1894.2 1060L1898 1060L1901.2 1056.2L1903.8 1062L1908 1061.2L1911.8 1062.5L1915.5 1066.2L1922.2 1075.5L1930 1069.5L1935.5 1074.2L1940.5 1078.2L1948 1071.2L1953 1073.8L1958.8 1073.8L1966.8 1061.2L1973.5 1067.5L1978 1066.2L1984.2 1067.5L1987.5 1065L1995.5 1072L2003 1074.5L2010.5 1077.5L2016 1071.8L2018 1074.5L2021 1073L2028.8 1077L2032.5 1073.8L2035.5 1075L2040.5 1068.8L2043 1068.8L2047.5 1061.8L2050.5 1065L2056.8 1061.2L2062 1066.2L2069.5 1068.2L2075.8 1072.5L2082 1074.5L2088.2 1073.2L2092 1068.8L2097 1073.8L2103.2 1078.2L2112 1076.2L2117 1075L2122 1077.5L2128.2 1072L2133.2 1071.8L2137 1068.8L2143.2 1075L2149.5 1073.8L2157 1072L2162 1071.2L2169.5 1066.2L2175.8 1063.2L2180.8 1066.2L2185 1069.2L2189.5 1059.2L2194.5 1054.5L2199 1053.8L2204.5 1046.2L2209 1040.8L2213.2 1048L2218.2 1046.8L2223.2 1049.2L2228.2 1046.2L2233.2 1052.5L2237 1051.2L2242 1055L2248.2 1062.5L2252 1058.8L2259.5 1059.2L2263.2 1052L2267 1054.5L2272 1061.2L2276.2 1062L2280.8 1051.2L2284.5 1042.5L2292 1041.2L2295.8 1048L2299.5 1047.5L2303.2 1056.2L2308.2 1060L2312 1057.5L2318.2 1058L2324.5 1066.2L2327.8 1065L2332 1075L2334.5 1076.2L2338.2 1063L2340.8 1073L2344.5 1074.5L2349.5 1080.8L2354.5 1076.8L2358.2 1078.2L2364.5 1077.5L2368.2 1074.5L2374.5 1078L2382 1081.2L2385.2 1084.2L2389.5 1080L2394.5 1078L2402 1075L2407 1070.8L2414.5 1072.5L2424.5 1072.5L2428.2 1065L2432 1062L2435.8 1066.2L2439.5 1067.5L2444.5 1064.5L2450.8 1063.8L2457 1068.8L2464.5 1072.5L2469.5 1067.5L2472 1070L2484.5 1073L2499.5 1072.5L2507 1068.8L2512 1068L2518.2 1062.5L2521.2 1061.2L2523.2 1055.5L2525.8 1061.2L2532 1062.5L2537 1068L2542 1067.5L2548.2 1060L2553.2 1061.2L2559.5 1057.5L2562 1059.2L2567.5 1053.2L2570.8 1057.5L2575.8 1053.8L2579.5 1055.8L2584.5 1051.2L2589.5 1045.8L2594.5 1044.5L2598.2 1046.2L2604 1059.2L2609.5 1053L2615 1047.5L2620.8 1051.2L2625.2 1064.5L2627 1053.8L2632 1062.5L2637 1060.8L2645.8 1057.5L2652 1060L2654.5 1063" fill="none" stroke="#3f63c8" stroke-width="1.3" stroke-linejoin="round" clip-path="url(#unselclip)"/>
<path d="M205 1113.5L280 1114.2L355 1114.2L405 1113.5L430 1112L437.5 1110L442.5 1111L455 1110.8L477.5 1110.2L480 1109.2L487.5 1108.5L495 1106.8L505 1107L512.5 1104.5L516.2 1101.5L520 1102.5L524.5 1100.8L530 1102L540 1102L545.5 1099.5L552.5 1106.2L555 1105.5L561.2 1106.8L566.2 1103.8L572.5 1102.5L577.5 1104.2L583 1103L589.5 1107L597.5 1105.5L610 1104.5L617.5 1106.2L626.2 1107.8L635 1106.8L641.2 1104.2L645 1105L650 1103.2L658.8 1102.5L663.8 1095L667.5 1092L671.2 1094.2L675 1093.8L680 1083.8L685.5 1075L690.8 1059.5L693.8 1062.5L697 1064.5L700 1069.5L702.5 1066.2L706.2 1076.8L709.5 1073L716.2 1076.8L720 1072.5L722.5 1066.2L726.2 1068.8L732.5 1072L742.5 1069.5L748.8 1055L750.8 1060L753.2 1055.5L757.5 1058.2L762.5 1046.2L766.2 1040L769.5 1046.2L774 1047L779 1052L784 1048L791.5 1060.5L797.8 1048.8L804 1060L812.8 1069.5L817.8 1062.5L821.5 1063.8L828.5 1057.5L832.8 1065L837.8 1063.8L845.2 1075.5L854 1072.5L859 1076.2L863.5 1088.2L871.5 1088.2L875.2 1083L877.8 1085L882.8 1081L889 1087.5L893.5 1084.5L901.5 1091.2L907.8 1089.2L912.8 1086.2L920.2 1091.2L926.5 1092.5L936.5 1088.2L944 1086.2L950.2 1080L954.5 1076.2L959 1082.5L967.8 1085.5L977.8 1084.2L986.5 1087.5L995.2 1088.8L1001.5 1095L1006 1101.8L1014 1100L1024 1102.5L1029 1101.2L1034 1103.8L1042.8 1103.8L1047.8 1106.8L1054 1105L1063.2 1102.5L1070.2 1105L1079 1103.8L1085.2 1105L1095.2 1102L1104 1104.2L1114 1103L1126.5 1101.5L1134 1103.8L1144 1105.8L1161.5 1104.5L1179 1105.5L1196.5 1105L1216.5 1106.2L1236.5 1105L1240.2 1111.2L1249 1110.5L1259 1111L1274 1110.8L1289 1111L1304 1112L1321.5 1110.5L1326.5 1108L1334 1107.5L1344 1108.2L1361.5 1109L1374 1108L1386.5 1108.5L1399 1109.5L1418 1108.5L1435.5 1109L1445.5 1107.2L1455.5 1108.8L1480.5 1109L1505.5 1108.8L1520.5 1110.5L1538 1110L1553 1109L1563 1106.8L1578 1108L1598 1107.5L1618 1109L1640.5 1109.5L1660.5 1109.2L1668 1108L1683 1108.5L1693 1105.5L1700.5 1105L1708 1102.5L1714.2 1102L1717.5 1098L1730.5 1097.8L1743 1097.2L1750.5 1096L1754.2 1093L1758 1095L1762.5 1093.5L1766.8 1093.2L1773.5 1082.5L1776.8 1082.5L1780.5 1085L1784.2 1083L1788 1086.8L1791.8 1088.8L1795.5 1085.8L1801.8 1087L1805 1085.5L1809.2 1088.2L1813.8 1090.5L1820.5 1085.8L1824.2 1087L1830 1087.5L1836.8 1083.2L1841.8 1081.2L1846.8 1083L1852.5 1085.8L1856.8 1083.8L1863 1077.5L1867.5 1078L1870 1073.8L1875 1071.2L1879.2 1063.8L1883 1056.2L1885.5 1065L1889.2 1062.5L1891.2 1065L1894.2 1060L1898 1060L1901.2 1056.2L1903.8 1062L1908 1061.2L1911.8 1062.5L1915.5 1066.2L1922.2 1075.5L1930 1069.5L1935.5 1074.2L1940.5 1078.2L1948 1071.2L1953 1073.8L1958.8 1073.8L1966.8 1061.2L1973.5 1067.5L1978 1066.2L1984.2 1067.5L1987.5 1065L1995.5 1072L2003 1074.5L2010.5 1077.5L2016 1071.8L2018 1074.5L2021 1073L2028.8 1077L2032.5 1073.8L2035.5 1075L2040.5 1068.8L2043 1068.8L2047.5 1061.8L2050.5 1065L2056.8 1061.2L2062 1066.2L2069.5 1068.2L2075.8 1072.5L2082 1074.5L2088.2 1073.2L2092 1068.8L2097 1073.8L2103.2 1078.2L2112 1076.2L2117 1075L2122 1077.5L2128.2 1072L2133.2 1071.8L2137 1068.8L2143.2 1075L2149.5 1073.8L2157 1072L2162 1071.2L2169.5 1066.2L2175.8 1063.2L2180.8 1066.2L2185 1069.2L2189.5 1059.2L2194.5 1054.5L2199 1053.8L2204.5 1046.2L2209 1040.8L2213.2 1048L2218.2 1046.8L2223.2 1049.2L2228.2 1046.2L2233.2 1052.5L2237 1051.2L2242 1055L2248.2 1062.5L2252 1058.8L2259.5 1059.2L2263.2 1052L2267 1054.5L2272 1061.2L2276.2 1062L2280.8 1051.2L2284.5 1042.5L2292 1041.2L2295.8 1048L2299.5 1047.5L2303.2 1056.2L2308.2 1060L2312 1057.5L2318.2 1058L2324.5 1066.2L2327.8 1065L2332 1075L2334.5 1076.2L2338.2 1063L2340.8 1073L2344.5 1074.5L2349.5 1080.8L2354.5 1076.8L2358.2 1078.2L2364.5 1077.5L2368.2 1074.5L2374.5 1078L2382 1081.2L2385.2 1084.2L2389.5 1080L2394.5 1078L2402 1075L2407 1070.8L2414.5 1072.5L2424.5 1072.5L2428.2 1065L2432 1062L2435.8 1066.2L2439.5 1067.5L2444.5 1064.5L2450.8 1063.8L2457 1068.8L2464.5 1072.5L2469.5 1067.5L2472 1070L2484.5 1073L2499.5 1072.5L2507 1068.8L2512 1068L2518.2 1062.5L2521.2 1061.2L2523.2 1055.5L2525.8 1061.2L2532 1062.5L2537 1068L2542 1067.5L2548.2 1060L2553.2 1061.2L2559.5 1057.5L2562 1059.2L2567.5 1053.2L2570.8 1057.5L2575.8 1053.8L2579.5 1055.8L2584.5 1051.2L2589.5 1045.8L2594.5 1044.5L2598.2 1046.2L2604 1059.2L2609.5 1053L2615 1047.5L2620.8 1051.2L2625.2 1064.5L2627 1053.8L2632 1062.5L2637 1060.8L2645.8 1057.5L2652 1060L2654.5 1063" fill="none" stroke="#8ea6ee" stroke-width="1.3" stroke-linejoin="round" clip-path="url(#selclip)"/>
<rect x="2468.9" y="1060.1" width="33" height="39" rx="13" fill="#000" opacity="0.45" filter="url(#hb2)"/>
<rect x="2470.9" y="1062.2" width="29" height="34.7" rx="11.5" fill="#353645" filter="url(#hb1)"/>
<path d="M2482.2 1073.6v12M2488.6 1073.6v12" stroke="#9a9cb0" stroke-width="2.1" fill="none"/>
<rect x="2645.9" y="1060.1" width="33" height="39" rx="13" fill="#000" opacity="0.45" filter="url(#hb2)"/>
<rect x="2647.9" y="1062.2" width="29" height="34.7" rx="11.5" fill="#353645" filter="url(#hb1)"/>
<path d="M2659.2 1073.6v12M2665.6 1073.6v12" stroke="#9a9cb0" stroke-width="2.1" fill="none"/>
<rect x="2535.5" y="982.5" width="228.5" height="43.75" rx="6" fill="#000"/>
<text x="2548.98" y="1010.5" textLength="201.47" lengthAdjust="spacingAndGlyphs" font-size="22.5" fill="#ffffff" stroke="#ffffff" stroke-width="0.45" stroke-linejoin="round">11 Nov 2025, 03:00</text>
<rect x="2778" y="1139" width="40" height="40" rx="5" fill="#5a5e68"/>
<path d="M2788.6 1151.7L2796.3 1157.8L2789 1164" stroke="#0d1020" stroke-width="2.8" fill="none"/>
</svg>
</body></html>
